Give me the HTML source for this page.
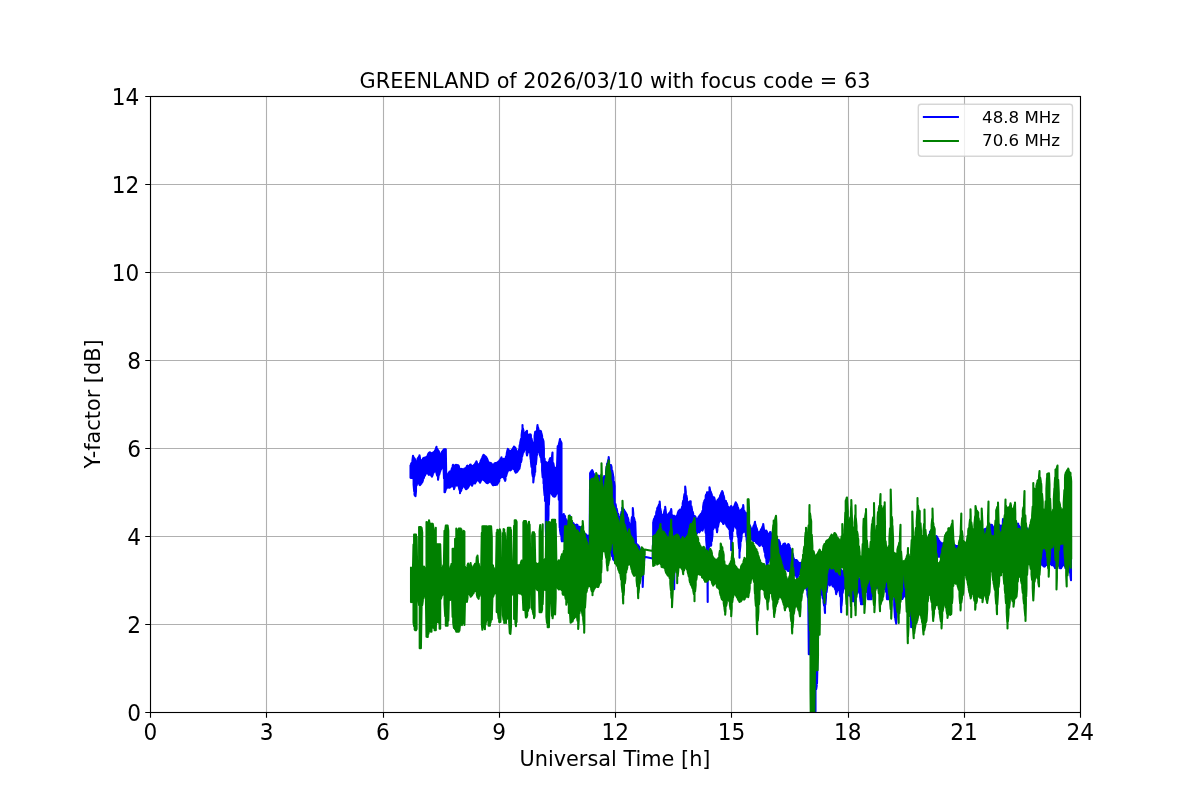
<!DOCTYPE html>
<html lang="en"><head><meta charset="utf-8"><title>GREENLAND of 2026/03/10 with focus code = 63</title>
<style>html,body{margin:0;padding:0;background:#fff;overflow:hidden}svg{display:block}text{font-family:'DejaVu Sans', 'Liberation Sans', sans-serif;fill:#000}</style></head><body>
<svg width="1200" height="800" viewBox="0 0 1200 800">
<rect width="1200" height="800" fill="#fff"/>
<clipPath id="ax"><rect x="150" y="96" width="930" height="616"/></clipPath>
<path d="M150.50 712 V96 M266.50 712 V96 M383.50 712 V96 M499.50 712 V96 M615.50 712 V96 M731.50 712 V96 M848.50 712 V96 M964.50 712 V96 M1080.50 712 V96 M150 712.50 H1080 M150 624.50 H1080 M150 536.50 H1080 M150 448.50 H1080 M150 360.50 H1080 M150 272.50 H1080 M150 184.50 H1080 M150 96.50 H1080" fill="none" stroke="#b0b0b0" stroke-width="1.111" stroke-linecap="square" clip-path="url(#ax)"/>
<path d="M150.50 712.5 v5.26 M266.50 712.5 v5.26 M383.50 712.5 v5.26 M499.50 712.5 v5.26 M615.50 712.5 v5.26 M731.50 712.5 v5.26 M848.50 712.5 v5.26 M964.50 712.5 v5.26 M1080.50 712.5 v5.26 M150.5 712.50 h-5.26 M150.5 624.50 h-5.26 M150.5 536.50 h-5.26 M150.5 448.50 h-5.26 M150.5 360.50 h-5.26 M150.5 272.50 h-5.26 M150.5 184.50 h-5.26 M150.5 96.50 h-5.26" fill="none" stroke="#000" stroke-width="1.111"/>
<g clip-path="url(#ax)" fill="none" stroke-width="2.083" stroke-linejoin="round" stroke-linecap="butt">
<polyline stroke="#0000ff" points="410.5,464.8 410.5,477.8 411.1,478.0 411.1,463.8 411.7,462.8 411.7,478.0 412.4,477.9 412.4,460.8 413.0,455.8 413.0,478.5 413.0,478.5 413.0,455.8 413.6,457.3 413.6,484.5 414.2,491.4 414.2,458.1 414.5,458.4 414.5,494.5 414.8,495.4 414.8,458.8 415.5,461.1 415.5,496.2 416.0,491.2 416.0,463.1 416.7,462.1 416.7,485.3 417.5,481.2 417.5,459.2 417.9,458.1 417.9,481.9 418.6,483.1 418.6,457.3 419.2,456.4 419.2,484.3 419.5,484.8 419.5,455.3 420.0,458.2 420.0,485.2 420.4,484.7 420.4,459.8 421.1,461.3 421.1,483.9 421.5,483.3 421.5,461.5 422.3,459.8 422.3,482.2 422.9,480.4 422.9,458.7 423.5,458.0 423.5,478.6 424.0,477.5 424.0,457.7 424.8,457.8 424.8,475.8 425.0,475.4 425.0,457.8 425.4,457.8 425.4,474.6 426.0,473.5 426.0,457.4 426.6,456.9 426.6,472.6 427.0,472.1 427.0,456.6 427.3,456.1 427.3,472.4 427.9,473.4 427.9,454.7 428.5,453.3 428.5,474.5 429.0,474.9 429.0,452.8 429.7,452.3 429.7,474.3 430.4,474.3 430.4,452.6 431.0,453.0 431.0,475.2 431.6,476.1 431.6,453.5 432.0,453.2 432.0,476.7 432.2,476.1 432.2,453.1 432.5,452.9 432.5,475.3 432.8,474.4 432.8,452.7 433.5,452.3 433.5,472.9 434.1,471.7 434.1,451.8 434.7,451.3 434.7,470.8 435.0,470.7 435.0,450.7 435.3,450.0 435.3,471.1 435.9,471.8 435.9,448.6 436.5,446.8 436.5,473.2 437.2,475.6 437.2,448.9 438.0,450.2 438.0,479.7 438.5,476.8 438.5,450.8 439.1,452.1 439.1,474.9 439.7,472.8 439.7,454.1 440.0,455.3 440.0,471.8 440.3,471.0 440.3,455.3 441.0,454.0 441.0,469.4 441.5,468.5 441.5,452.8 442.2,451.6 442.2,467.5 442.8,466.8 442.8,450.8 443.5,449.9 443.5,466.1 444.0,478.4 444.0,449.3 444.5,449.3 444.5,492.2 445.0,492.2 445.0,449.3 445.3,449.3 445.3,491.3 445.8,489.3 445.8,449.3 446.2,473.9 446.2,488.9 446.5,488.1 446.5,474.5 447.0,474.6 447.0,487.8 447.7,487.4 447.7,474.3 448.0,474.1 448.0,487.4 448.4,487.5 448.4,473.5 449.0,472.4 449.0,487.8 449.6,487.7 449.6,471.6 450.0,471.6 450.0,487.4 450.2,487.3 450.2,471.5 450.8,471.1 450.8,486.9 451.5,486.1 451.5,469.9 452.0,468.1 452.0,484.9 452.7,484.8 452.7,465.8 453.0,464.8 453.0,485.8 453.3,486.9 453.3,465.4 454.0,466.5 454.0,489.2 454.6,487.5 454.6,465.8 455.2,465.1 455.2,485.7 456.0,484.9 456.0,464.8 456.4,464.9 456.4,485.6 457.0,485.4 457.0,465.1 457.7,465.2 457.7,485.5 458.3,485.7 458.3,465.4 458.9,466.3 458.9,487.6 459.5,490.0 459.5,468.4 460.0,469.8 460.0,493.2 460.0,493.2 460.0,469.8 460.8,469.2 460.8,491.2 461.4,490.1 461.4,468.9 462.0,469.1 462.0,488.4 462.6,486.8 462.6,469.3 463.0,469.4 463.0,485.9 463.3,485.8 463.3,469.4 463.9,469.0 463.9,486.1 464.5,486.6 464.5,468.6 465.0,468.5 465.0,487.5 465.7,488.7 465.7,468.0 466.0,467.8 466.0,489.2 466.4,489.0 466.4,467.4 467.0,465.9 467.0,488.6 467.6,488.2 467.6,465.6 468.2,466.4 468.2,487.3 469.0,485.9 469.0,466.9 469.5,465.8 469.5,485.1 470.0,483.9 470.0,464.7 470.7,464.5 470.7,483.4 471.3,484.5 471.3,465.4 472.0,466.2 472.0,485.7 472.6,484.4 472.6,466.0 473.0,465.9 473.0,483.5 473.8,482.9 473.8,465.3 474.4,464.6 474.4,483.2 475.1,483.4 475.1,463.8 475.7,462.7 475.7,482.2 476.0,481.6 476.0,462.2 476.3,461.7 476.3,481.2 476.5,480.9 476.5,461.3 476.9,462.3 476.9,480.6 477.5,480.2 477.5,463.7 478.2,465.0 478.2,479.8 478.8,480.8 478.8,465.3 479.0,465.4 479.0,481.1 479.4,481.7 479.4,464.5 480.0,462.9 480.0,482.7 480.6,481.5 480.6,461.0 481.0,460.3 481.0,480.8 481.3,480.3 481.3,459.7 481.9,458.4 481.9,479.2 482.5,478.9 482.5,457.0 483.1,455.6 483.1,479.5 483.5,479.9 483.5,454.8 483.7,455.0 483.7,480.1 484.0,480.2 484.0,455.2 484.4,455.5 484.4,480.6 485.0,481.2 485.0,456.0 485.6,456.5 485.6,481.8 486.0,482.2 486.0,456.8 486.2,457.1 486.2,482.4 486.8,483.0 486.8,458.1 487.5,459.6 487.5,483.3 488.0,483.1 488.0,461.0 488.7,462.8 488.7,482.3 489.3,481.9 489.3,462.7 490.0,462.8 490.0,481.5 490.6,481.7 490.6,463.0 491.2,463.2 491.2,482.4 491.8,483.3 491.8,463.9 492.4,465.0 492.4,484.3 493.0,485.2 493.0,465.9 493.0,465.9 493.0,485.2 493.7,485.1 493.7,465.1 494.3,463.7 494.3,485.0 494.9,485.0 494.9,463.2 495.5,463.0 495.5,484.9 496.0,484.8 496.0,463.1 496.8,462.8 496.8,484.7 497.0,484.7 497.0,462.8 497.4,462.6 497.4,484.0 498.0,483.0 498.0,462.0 498.5,461.5 498.5,482.2 499.3,480.9 499.3,460.7 500.0,459.8 500.0,478.4 500.5,477.7 500.5,459.2 501.1,458.0 501.1,477.3 501.5,477.0 501.5,457.3 501.7,459.0 501.7,476.9 502.4,476.9 502.4,460.5 503.0,459.7 503.0,477.1 503.6,477.2 503.6,458.8 504.2,459.2 504.2,478.6 505.0,480.4 505.0,459.9 505.2,459.3 505.2,480.9 505.5,479.5 505.5,458.4 506.1,456.4 506.1,476.1 506.7,474.0 506.7,454.4 507.0,452.0 507.0,473.2 507.3,472.4 507.3,450.8 507.9,448.9 507.9,471.0 508.2,470.4 508.2,449.3 508.6,449.8 508.6,470.2 509.2,470.0 509.2,450.7 510.0,451.2 510.0,470.2 510.4,470.4 510.4,451.0 511.2,450.6 511.2,469.8 511.7,468.8 511.7,450.1 512.3,449.6 512.3,467.4 512.9,467.9 512.9,448.5 513.5,447.4 513.5,468.8 514.0,469.5 514.0,446.5 514.8,447.2 514.8,471.0 515.4,472.1 515.4,447.9 515.7,448.6 515.7,472.7 516.0,472.6 516.0,449.4 516.6,450.9 516.6,472.3 517.3,471.6 517.3,452.2 518.0,453.2 518.0,470.6 518.5,469.8 518.5,452.0 519.1,449.2 519.1,469.0 519.5,468.6 519.5,446.7 519.7,445.0 519.7,467.2 520.2,464.6 520.2,442.8 521.0,438.9 521.0,462.3 521.6,459.6 521.6,435.2 522.2,430.1 522.2,456.2 522.5,454.7 522.5,425.1 522.5,425.1 522.5,454.7 522.8,453.9 522.8,428.0 523.5,430.8 523.5,452.4 524.1,450.9 524.1,432.9 524.7,434.5 524.7,448.7 524.7,448.7 524.7,434.5 525.3,433.3 525.3,449.1 525.9,449.7 525.9,431.9 526.6,431.1 526.6,453.0 527.0,455.4 527.0,430.8 527.0,430.8 527.0,455.4 527.8,452.3 527.8,434.7 528.4,434.7 528.4,452.0 529.1,451.8 529.1,434.8 529.7,434.6 529.7,452.5 530.0,452.8 530.0,434.6 530.3,434.6 530.3,455.8 530.7,459.4 530.7,434.5 530.9,435.5 530.9,461.3 531.5,466.8 531.5,438.5 532.2,441.7 532.2,472.7 532.8,476.2 532.8,443.6 533.3,445.4 533.3,482.4 533.7,478.6 533.7,445.9 534.0,442.5 534.0,477.0 534.6,474.5 534.6,435.8 535.2,431.9 535.2,471.9 535.2,471.9 535.2,431.9 535.9,432.6 535.9,464.4 536.5,457.8 536.5,431.9 536.7,430.8 536.7,455.9 537.1,454.3 537.1,428.3 537.5,425.1 537.5,452.8 537.7,451.9 537.7,426.6 538.4,428.7 538.4,450.2 539.0,450.9 539.0,430.3 539.6,432.1 539.6,454.0 540.2,455.9 540.2,431.3 540.5,430.8 540.5,456.7 540.8,457.8 540.8,431.0 541.2,432.4 541.2,459.2 541.5,462.5 541.5,433.6 542.1,436.1 542.1,470.4 542.7,477.5 542.7,438.7 543.5,441.2 543.5,483.4 543.5,483.4 543.5,441.2 543.9,448.9 543.9,487.5 544.6,495.5 544.6,458.5 545.0,464.3 545.0,501.0 545.0,501.0 545.0,464.3 545.8,462.3 545.8,527.5 546.2,540.8 546.2,462.3 546.4,462.3 546.4,541.8 547.2,544.0 547.2,462.9 547.3,463.0 547.3,544.2 547.7,535.1 547.7,463.1 548.3,463.2 548.3,519.9 548.5,514.9 548.5,462.8 548.9,461.5 548.9,505.0 549.5,491.1 549.5,459.6 550.2,458.2 550.2,491.6 550.8,492.5 550.8,458.4 551.4,458.5 551.4,493.5 552.0,494.5 552.0,456.6 552.5,452.5 552.5,495.2 553.3,496.3 553.3,463.1 553.9,466.5 553.9,496.5 554.5,496.6 554.5,469.3 554.7,470.1 554.7,496.7 554.7,496.7 554.7,470.1 555.1,469.3 555.1,496.2 555.7,495.5 555.7,467.8 556.4,467.3 556.4,494.0 557.0,492.5 557.0,467.5 557.7,446.3 557.7,490.7 558.2,489.6 558.2,445.8 558.5,445.5 558.5,489.0 558.8,499.6 558.8,444.6 559.5,441.6 559.5,520.0 559.7,527.7 559.7,440.5 560.0,439.0 560.0,529.9 560.7,534.7 560.7,441.0 561.5,443.2 561.5,539.0 561.9,541.2 561.9,518.0 561.9,518.0 561.9,541.2 562.6,541.2 562.6,516.5 563.2,515.1 563.2,541.2 563.5,541.2 563.5,514.5 563.7,514.0 563.7,540.7 564.4,539.1 564.4,515.3 565.1,516.4 565.1,537.9 565.7,538.9 565.7,518.8 566.0,519.9 566.0,539.5 566.3,539.9 566.3,520.9 566.7,521.8 566.7,539.3 566.9,538.9 566.9,521.8 567.5,521.5 567.5,537.8 568.2,536.7 568.2,521.0 568.8,519.1 568.8,535.7 569.4,535.2 569.4,517.1 569.7,515.5 569.7,535.4 570.0,535.7 570.0,517.0 570.6,519.1 570.6,537.6 571.3,538.6 571.3,520.6 571.9,521.6 571.9,538.7 572.5,538.8 572.5,522.6 573.1,523.1 573.1,540.5 573.5,541.7 573.5,523.4 573.7,523.7 573.7,542.4 574.4,542.6 574.4,524.5 575.0,525.2 575.0,542.7 575.6,542.5 575.6,525.4 576.2,525.0 576.2,542.7 576.8,542.9 576.8,524.6 577.5,525.1 577.5,543.3 578.0,543.8 578.0,526.5 578.7,526.9 578.7,544.8 579.3,545.8 579.3,526.7 580.0,526.9 580.0,547.0 580.6,546.7 580.6,528.3 581.2,529.8 581.2,545.9 581.8,545.9 581.8,530.8 582.5,531.0 582.5,546.3 583.1,546.6 583.1,531.6 583.7,532.5 583.7,546.7 584.3,546.6 584.3,533.4 584.9,533.7 584.9,547.6 585.5,548.8 585.5,534.0 586.2,534.8 586.2,550.0 586.8,550.7 586.8,535.4 587.0,535.7 587.0,551.2 587.4,549.1 587.4,535.7 588.0,535.7 588.0,547.5 588.6,546.3 588.6,535.7 589.3,535.4 589.3,545.3 589.7,544.6 589.7,535.3 590.0,489.1 590.0,544.2 590.1,544.2 590.1,473.4 590.5,472.3 590.5,543.5 591.1,542.0 591.1,471.5 591.7,470.7 591.7,540.5 592.2,540.0 592.2,470.1 593.0,472.0 593.0,539.9 593.6,539.9 593.6,473.5 594.2,474.6 594.2,541.9 594.8,544.0 594.8,475.7 595.5,476.6 595.5,543.6 596.0,543.0 596.0,477.4 596.7,477.1 596.7,542.2 597.3,541.7 597.3,476.5 597.9,475.8 597.9,541.3 598.6,542.3 598.6,475.6 599.2,476.1 599.2,543.7 600.0,544.2 600.0,476.8 600.0,476.8 600.0,544.2 600.4,544.7 600.4,476.7 601.1,476.6 601.1,544.9 601.7,544.8 601.7,478.4 602.3,480.6 602.3,544.7 602.9,545.9 602.9,479.1 603.5,477.6 603.5,547.3 604.2,548.8 604.2,476.0 604.8,477.7 604.8,547.9 605.0,547.4 605.0,478.3 605.4,476.7 605.4,546.4 606.0,548.7 606.0,471.8 606.6,466.9 606.6,551.0 607.0,552.2 607.0,464.0 607.3,463.2 607.3,551.7 607.9,550.7 607.9,461.4 608.5,458.9 608.5,549.7 608.7,549.9 608.7,457.0 609.1,460.9 609.1,550.4 609.7,551.2 609.7,464.8 610.4,465.0 610.4,552.0 611.0,552.8 611.0,465.1 611.6,467.2 611.6,554.4 612.2,556.4 612.2,470.5 613.0,474.7 613.0,558.9 613.2,559.4 613.2,475.8 613.5,477.6 613.5,559.7 614.1,560.3 614.1,481.9 614.7,486.1 614.7,560.9 615.5,561.7 615.5,504.1 615.9,505.9 615.9,562.1 616.6,562.1 616.6,508.6 617.2,511.2 617.2,561.5 618.0,561.1 618.0,513.5 618.4,514.6 618.4,561.0 619.1,560.9 619.1,516.7 619.7,519.4 619.7,561.3 620.0,561.5 620.0,520.8 620.3,519.1 620.3,561.7 620.9,562.8 620.9,515.4 621.5,511.7 621.5,564.1 622.2,564.1 622.2,507.8 622.8,508.4 622.8,563.1 623.4,561.9 623.4,509.1 624.0,509.8 624.0,562.4 624.6,564.2 624.6,510.9 625.0,511.5 625.0,565.2 625.3,564.1 625.3,512.0 625.9,513.1 625.9,561.6 626.5,559.7 626.5,514.1 627.0,515.0 627.0,559.7 627.7,559.7 627.7,517.2 628.4,519.7 628.4,559.5 629.0,558.1 629.0,522.3 629.6,525.0 629.6,557.0 630.2,556.7 630.2,526.7 630.8,524.0 630.8,556.3 631.5,555.9 631.5,520.6 632.0,517.0 632.0,555.6 632.8,557.0 632.8,508.0 633.3,513.6 633.3,559.2 633.9,561.6 633.9,517.6 634.6,520.2 634.6,561.4 635.2,561.3 635.2,521.8 636.0,542.4 636.0,562.1 636.4,562.6 636.4,543.5 637.1,545.1 637.1,563.7 637.7,565.4 637.7,545.4 638.3,545.3 638.3,567.1 638.9,567.8 638.9,546.4 639.5,547.8 639.5,568.6 640.0,569.2 640.0,549.1 640.0,549.1 640.0,569.2 640.8,571.0 640.8,551.7 641.4,553.5 641.4,572.5 642.0,576.0 642.0,554.0 642.7,554.2 642.7,586.9 643.3,571.2 643.3,555.6 643.9,556.8 643.9,562.9 644.5,557.2 644.5,557.2 644.5,556.7 652.7,558.5 652.9,544.9 652.9,558.2 653.2,559.2 653.2,522.3 653.2,522.3 653.2,559.2 653.5,557.9 653.5,521.1 654.1,518.8 654.1,555.4 654.8,553.6 654.8,517.2 655.4,515.8 655.4,552.1 656.2,551.0 656.2,512.9 656.6,511.0 656.6,551.2 657.2,551.0 657.2,508.2 657.9,507.1 657.9,549.6 658.5,548.1 658.5,505.9 659.1,504.4 659.1,547.4 659.7,546.9 659.7,501.5 660.0,505.6 660.0,546.7 660.3,546.7 660.3,508.5 661.0,512.0 661.0,545.9 661.6,544.3 661.6,514.2 662.2,516.2 662.2,543.6 662.8,543.7 662.8,515.6 663.4,514.4 663.4,543.7 664.1,543.6 664.1,512.3 664.7,509.8 664.7,543.6 665.2,544.1 665.2,506.8 665.9,512.5 665.9,544.8 666.5,544.2 666.5,515.2 667.2,514.9 667.2,542.8 667.5,542.0 667.5,514.7 667.8,514.5 667.8,542.2 668.2,542.9 668.2,514.3 668.4,514.1 668.4,543.2 669.0,544.2 669.0,513.4 669.6,512.6 669.6,545.3 670.3,545.6 670.3,511.6 670.9,510.4 670.9,545.9 671.2,545.9 671.2,509.0 671.5,511.6 671.5,545.2 672.1,544.0 672.1,515.0 672.8,517.4 672.8,545.0 673.4,546.2 673.4,516.3 674.0,515.7 674.0,570.2 674.2,589.2 674.2,516.2 674.2,516.2 674.2,589.2 674.6,559.3 674.6,516.4 675.0,516.5 675.0,543.9 675.2,543.3 675.2,516.6 675.9,516.5 675.9,543.5 676.5,543.6 676.5,516.0 677.1,515.2 677.1,543.7 677.7,542.9 677.7,513.4 678.0,512.6 678.0,542.6 678.3,542.1 678.3,511.5 679.0,510.7 679.0,542.6 679.6,543.4 679.6,509.8 680.0,509.6 680.0,543.9 680.8,543.3 680.8,509.6 681.4,509.7 681.4,542.5 681.7,542.1 681.7,508.8 682.1,506.8 682.1,541.3 682.7,540.3 682.7,503.2 683.3,500.6 683.3,542.0 683.9,543.6 683.9,497.6 684.5,494.0 684.5,544.2 685.2,544.2 685.2,486.5 685.8,491.8 685.8,544.2 686.4,543.7 686.4,495.5 687.0,498.6 687.0,542.9 687.7,542.0 687.7,501.6 688.3,502.5 688.3,541.5 688.9,541.2 688.9,502.9 689.5,502.0 689.5,542.9 690.0,544.2 690.0,501.3 690.7,501.3 690.7,542.8 691.4,540.3 691.4,506.3 692.0,509.7 692.0,538.0 692.6,537.2 692.6,511.6 693.2,513.5 693.2,536.8 693.7,536.4 693.7,515.8 694.5,516.1 694.5,535.2 695.1,534.2 695.1,516.3 695.7,517.5 695.7,534.7 696.3,535.1 696.3,518.7 696.9,518.9 696.9,533.5 697.5,531.8 697.5,519.0 697.5,519.0 697.5,531.8 698.2,531.6 698.2,517.9 698.8,516.8 698.8,532.0 699.4,532.3 699.4,515.8 700.0,515.0 700.0,531.3 700.7,529.6 700.7,514.2 701.3,513.5 701.3,529.1 702.0,530.1 702.0,512.7 702.5,510.9 702.5,530.6 703.1,529.0 703.1,506.9 703.8,502.3 703.8,527.2 704.4,526.2 704.4,500.7 705.0,499.7 705.0,525.4 705.7,532.8 705.7,495.9 706.2,494.4 706.2,540.0 707.0,550.0 707.0,492.2 707.5,492.2 707.5,576.7 707.7,601.9 707.7,492.5 708.1,493.0 708.1,563.7 708.4,548.9 708.4,493.2 708.7,492.1 708.7,547.9 709.5,545.6 709.5,487.3 710.0,489.6 710.0,544.6 710.6,545.3 710.6,491.4 711.0,492.5 711.0,545.8 711.2,544.9 711.2,493.1 711.8,494.7 711.8,541.2 712.5,535.0 712.5,496.4 713.1,497.9 713.1,529.6 713.7,527.4 713.7,497.6 714.0,497.4 714.0,526.3 714.3,527.6 714.3,497.7 714.9,500.4 714.9,527.5 715.5,526.9 715.5,502.9 716.2,502.8 716.2,526.7 716.8,530.4 716.8,501.5 717.0,501.1 717.0,532.2 717.4,529.9 717.4,500.4 718.0,499.6 718.0,526.7 718.7,523.0 718.7,498.8 719.2,498.0 719.2,521.9 720.0,520.4 720.0,496.1 720.5,494.8 720.5,520.5 721.1,520.7 721.1,493.4 721.8,492.0 721.8,521.0 722.2,522.0 722.2,491.0 723.0,493.1 723.0,523.8 723.6,524.0 723.6,495.4 724.2,498.1 724.2,522.2 724.9,521.1 724.9,500.7 725.5,500.8 725.5,522.7 726.0,523.9 726.0,501.1 726.0,501.1 726.0,523.9 726.7,526.0 726.7,502.8 727.3,504.6 727.3,526.8 728.0,527.5 728.0,506.5 728.6,507.9 728.6,528.3 729.0,528.9 729.0,508.7 729.0,508.7 729.0,528.9 729.2,529.5 729.2,508.7 729.8,508.0 729.8,533.3 730.4,538.9 730.4,506.9 731.2,506.0 731.2,550.2 731.7,542.0 731.7,507.0 732.0,507.7 732.0,539.1 732.3,536.5 732.3,508.2 732.9,508.1 732.9,531.2 733.5,527.0 733.5,507.2 734.2,506.1 734.2,526.4 734.8,526.3 734.8,504.6 735.4,503.0 735.4,526.1 735.7,526.7 735.7,502.3 736.0,502.8 736.0,527.5 736.5,528.7 736.5,503.6 737.3,505.4 737.3,533.2 737.9,536.7 737.9,507.4 738.5,509.3 738.5,540.9 739.1,548.5 739.1,510.5 739.5,511.3 739.5,557.7 739.5,557.7 739.5,511.3 739.7,511.2 739.7,552.0 740.4,545.6 740.4,510.8 741.0,509.9 741.0,541.0 741.6,537.1 741.6,509.3 742.2,508.7 742.2,533.6 742.5,532.2 742.5,508.4 742.8,507.3 742.8,532.5 743.2,531.9 743.2,505.1 743.5,507.5 743.5,531.4 744.1,530.2 744.1,510.5 744.7,511.9 744.7,531.3 745.5,532.7 745.5,512.6 745.9,512.9 745.9,535.2 746.2,536.9 746.2,513.7 746.6,515.7 746.6,539.5 747.2,545.0 747.2,519.0 747.7,521.3 747.7,553.2 748.4,543.1 748.4,523.1 749.1,524.0 749.1,538.6 749.7,537.5 749.7,525.1 750.0,525.9 750.0,536.8 750.3,537.5 750.3,526.6 750.9,528.6 750.9,538.3 751.2,538.6 751.2,529.8 751.5,529.7 751.5,539.0 752.2,539.7 752.2,529.7 752.8,528.2 752.8,540.4 753.4,540.9 753.4,526.5 754.0,525.1 754.0,541.0 754.6,540.8 754.6,523.6 755.0,521.8 755.0,540.7 755.3,541.3 755.3,523.9 756.0,526.6 756.0,542.6 756.5,543.1 756.5,527.9 757.1,529.7 757.1,543.5 757.7,543.9 757.7,531.4 758.4,532.8 758.4,544.5 758.7,544.9 758.7,533.4 759.0,533.1 759.0,545.2 759.6,545.9 759.6,532.3 760.2,531.2 760.2,545.3 760.8,544.2 760.8,529.9 761.5,528.7 761.5,544.4 762.0,544.8 762.0,527.8 762.7,526.2 762.7,546.1 763.2,546.4 763.2,524.0 763.9,528.9 763.9,548.6 764.6,552.0 764.6,530.2 765.2,531.3 765.2,555.7 765.8,558.1 765.8,531.1 766.4,530.6 766.4,561.0 767.0,566.2 767.0,531.7 767.0,531.7 767.0,566.2 767.7,563.8 767.7,533.5 768.3,534.9 768.3,562.2 768.9,560.8 768.9,533.9 769.5,533.0 769.5,559.6 770.1,558.7 770.1,532.1 770.7,532.3 770.7,559.6 771.4,560.6 771.4,533.6 772.0,535.7 772.0,559.7 772.6,557.0 772.6,538.0 773.0,539.3 773.0,557.3 773.2,557.7 773.2,539.4 773.9,539.7 773.9,558.6 774.5,559.4 774.5,539.9 775.0,539.4 775.0,558.6 775.7,558.6 775.7,538.3 776.3,538.1 776.3,559.6 777.0,561.3 777.0,539.3 777.6,540.5 777.6,562.1 778.2,561.9 778.2,540.0 778.8,540.0 778.8,562.2 779.4,563.9 779.4,541.4 780.1,543.5 780.1,565.6 780.7,566.6 780.7,545.7 781.2,546.5 781.2,567.3 781.9,568.2 781.9,546.3 782.5,545.5 782.5,569.0 783.2,569.8 783.2,544.5 783.8,543.8 783.8,570.0 784.4,569.4 784.4,543.6 785.0,543.5 785.0,569.3 785.0,569.3 785.0,543.5 785.6,545.2 785.6,569.1 786.3,568.8 786.3,546.7 786.9,546.5 786.9,569.2 787.5,570.6 787.5,545.2 788.1,544.2 788.1,570.9 788.7,570.7 788.7,544.3 789.4,545.7 789.4,570.6 790.0,571.6 790.0,547.7 790.6,549.6 790.6,573.7 791.2,573.9 791.2,550.2 791.7,550.5 791.7,573.2 792.5,572.3 792.5,553.3 793.1,555.6 793.1,573.9 793.7,575.6 793.7,558.0 794.0,559.2 794.0,575.3 794.3,575.0 794.3,559.5 795.0,560.0 795.0,574.4 795.6,575.0 795.6,560.1 796.2,560.1 796.2,576.2 797.0,578.2 797.0,560.4 797.4,561.1 797.4,576.9 797.7,576.5 797.7,561.6 798.1,562.1 798.1,576.1 798.7,575.0 798.7,562.7 799.3,563.0 799.3,573.9 800.0,573.0 800.0,563.3 800.0,563.3 800.0,573.0 800.5,574.1 800.5,563.1 801.2,562.8 801.2,575.3 801.8,577.0 801.8,562.6 802.4,562.7 802.4,578.8 803.0,580.6 803.0,563.2 803.6,564.3 803.6,582.1 804.3,583.4 804.3,565.5 804.9,565.2 804.9,584.5 805.5,584.9 805.5,563.9 806.0,563.6 806.0,585.2 806.7,589.8 806.7,565.7 807.4,566.8 807.4,594.3 808.0,597.5 808.0,566.8 808.3,566.8 808.3,599.2 808.8,654.2 808.8,566.7 809.2,566.7 809.2,654.2 809.5,654.2 809.5,566.7 810.0,566.6 810.0,642.1 810.3,634.8 810.3,566.6 811.1,565.9 811.1,654.0 811.7,669.3 811.7,564.9 812.3,564.6 812.3,684.2 813.0,699.2 813.0,566.2 813.5,567.1 813.5,711.2 814.2,711.2 814.2,566.9 814.8,566.8 814.8,711.2 815.5,711.2 815.5,567.1 816.2,567.4 816.2,689.2 816.7,685.9 816.7,567.7 817.0,568.0 817.0,683.6 817.3,670.9 817.3,568.2 818.0,568.5 818.0,639.2 818.5,623.4 818.5,568.4 819.0,568.3 819.0,609.2 819.8,593.1 819.8,567.7 820.0,567.0 820.0,588.3 820.0,588.3 820.0,567.0 820.4,566.5 820.4,589.4 821.0,590.9 821.0,566.6 821.6,568.5 821.6,593.2 822.2,595.6 822.2,569.8 822.5,569.3 822.5,596.9 822.9,598.7 822.9,568.6 823.5,567.4 823.5,602.0 824.1,605.5 824.1,566.5 824.7,567.9 824.7,609.3 825.0,612.9 825.0,568.5 825.4,569.2 825.4,604.6 826.0,597.5 826.0,569.7 826.6,569.3 826.6,592.2 827.0,588.7 827.0,568.9 827.0,568.9 827.0,588.7 827.2,587.5 827.2,568.5 828.0,567.2 828.0,583.3 828.5,583.6 828.5,567.0 829.1,567.0 829.1,584.5 829.7,585.5 829.7,567.2 830.3,568.1 830.3,584.9 830.9,584.0 830.9,569.1 831.6,570.0 831.6,583.5 832.2,584.7 832.2,569.0 832.5,568.4 832.5,585.4 832.8,586.3 832.8,567.9 833.4,568.3 833.4,586.6 834.0,586.4 834.0,569.7 834.7,570.3 834.7,587.7 835.3,589.6 835.3,569.1 835.9,567.8 835.9,592.0 836.2,594.2 836.2,568.3 836.5,568.7 836.5,592.8 837.1,591.4 837.1,569.6 837.8,569.7 837.8,590.1 838.4,588.3 838.4,569.0 838.7,568.6 838.7,587.4 839.0,588.4 839.0,568.3 839.6,568.2 839.6,591.7 840.2,596.4 840.2,568.3 840.9,569.6 840.9,604.2 841.2,612.2 841.2,570.4 841.5,571.1 841.5,605.8 842.1,599.2 842.1,572.3 842.7,571.6 842.7,592.9 843.3,588.0 843.3,570.8 843.7,570.8 843.7,586.0 844.0,586.4 844.0,570.9 844.6,571.4 844.6,587.2 845.0,587.8 845.0,571.7 845.2,571.9 845.2,588.2 845.8,589.3 845.8,572.6 846.4,573.4 846.4,590.9 847.1,592.8 847.1,573.7 847.7,574.0 847.7,594.8 848.3,595.3 848.3,574.4 848.9,574.9 848.9,594.9 849.5,594.5 849.5,575.4 850.0,574.7 850.0,595.6 850.8,596.9 850.8,573.1 851.4,573.8 851.4,598.4 852.0,599.9 852.0,575.3 852.6,575.6 852.6,601.2 853.3,600.6 853.3,575.3 853.9,575.0 853.9,600.0 854.5,601.9 854.5,575.1 855.0,575.5 855.0,605.2 855.7,598.1 855.7,576.0 856.4,576.4 856.4,594.8 857.0,592.9 857.0,576.8 857.6,576.8 857.6,591.7 858.2,590.4 858.2,576.9 858.7,577.5 858.7,588.9 859.5,593.2 859.5,578.9 860.1,579.4 860.1,597.1 860.7,601.9 860.7,579.5 861.0,579.5 861.0,604.2 861.3,604.2 861.3,579.3 862.0,579.7 862.0,604.2 862.5,604.2 862.5,580.5 863.2,580.4 863.2,600.5 863.8,597.4 863.8,579.5 864.4,578.8 864.4,594.4 865.1,592.0 865.1,578.9 865.7,579.1 865.7,589.6 866.0,588.3 866.0,579.1 866.3,579.1 866.3,589.6 866.9,592.0 866.9,578.0 867.5,577.4 867.5,595.6 868.0,599.2 868.0,577.5 868.8,577.7 868.8,599.2 869.4,599.2 869.4,578.6 870.0,579.5 870.0,599.2 870.6,599.2 870.6,580.4 871.3,580.1 871.3,599.2 871.5,599.2 871.5,580.0 871.9,579.6 871.9,596.4 872.5,591.9 872.5,578.6 873.0,577.9 873.0,588.4 873.7,588.2 873.7,577.8 874.4,577.9 874.4,588.1 875.0,588.0 875.0,577.9 875.6,578.3 875.6,587.9 876.2,587.9 876.2,578.7 876.8,578.5 876.8,587.8 877.5,587.7 877.5,578.2 878.1,578.3 878.1,587.9 878.7,588.6 878.7,578.7 879.3,579.1 879.3,589.2 879.9,588.5 879.9,579.4 880.6,579.6 880.6,587.7 881.2,587.5 881.2,579.9 881.8,579.1 881.8,587.6 882.4,587.6 882.4,578.4 883.0,579.0 883.0,588.1 883.7,588.7 883.7,579.7 884.3,579.9 884.3,589.0 884.9,588.2 884.9,579.8 885.6,579.7 885.6,587.8 886.1,591.9 886.1,580.0 886.8,580.1 886.8,597.1 887.0,599.2 887.0,580.0 887.4,579.7 887.4,599.2 888.0,599.2 888.0,579.2 888.7,578.7 888.7,599.2 889.2,595.3 889.2,578.8 890.0,579.0 890.0,590.2 890.0,590.2 890.0,579.0 890.5,579.1 890.5,589.9 891.1,589.6 891.1,579.2 891.7,579.4 891.7,589.6 892.3,589.7 892.3,579.6 893.1,579.8 893.1,589.7 893.6,596.1 893.6,580.3 894.2,580.4 894.2,605.1 895.0,617.6 895.0,579.0 895.4,578.2 895.4,619.3 896.2,623.6 896.2,576.9 896.7,576.8 896.7,610.0 897.5,599.2 897.5,576.5 897.9,577.1 897.9,598.3 898.5,597.1 898.5,578.4 899.2,578.5 899.2,596.3 899.8,596.5 899.8,577.9 900.0,577.8 900.0,596.5 900.4,596.8 900.4,577.5 901.0,577.5 901.0,597.6 901.7,598.5 901.7,577.6 902.3,577.4 902.3,599.0 902.9,597.8 902.9,576.5 903.5,575.7 903.5,596.9 904.1,596.5 904.1,574.9 904.8,574.1 904.8,596.1 905.0,596.0 905.0,573.6 905.4,572.9 905.4,596.3 906.0,596.9 906.0,571.6 906.6,570.3 906.6,598.3 907.2,600.4 907.2,569.8 907.9,569.5 907.9,602.1 908.5,602.7 908.5,569.9 909.1,570.3 909.1,603.3 909.7,603.9 909.7,570.5 910.0,569.7 910.0,604.2 910.3,608.3 910.3,568.8 911.0,567.0 911.0,618.4 911.2,627.2 911.2,566.7 911.6,567.5 911.6,612.6 912.0,604.2 912.0,568.5 912.0,568.5 912.0,604.2 913.0,597.6 913.0,567.2 913.4,566.0 913.4,595.4 914.1,592.7 914.1,564.3 914.7,561.5 914.7,591.4 915.3,590.0 915.3,558.8 915.9,558.8 915.9,588.1 916.5,586.0 916.5,558.8 917.2,558.7 917.2,584.0 917.8,582.5 917.8,557.4 918.4,555.7 918.4,581.0 919.0,580.4 919.0,553.0 919.6,550.3 919.6,580.0 920.0,578.7 920.0,548.9 920.0,548.9 920.0,578.7 920.3,577.7 920.3,549.0 920.9,549.3 920.9,575.2 921.5,573.0 921.5,549.2 922.1,547.1 922.1,571.5 922.7,570.2 922.7,545.2 923.4,545.2 923.4,569.4 924.0,568.6 924.0,545.2 924.6,544.9 924.6,567.8 925.2,566.9 925.2,542.8 926.0,541.3 926.0,566.0 926.5,565.9 926.5,541.3 927.1,541.3 927.1,565.7 927.7,564.9 927.7,539.9 928.3,537.9 928.3,562.1 928.9,560.1 928.9,535.8 929.6,534.2 929.6,558.9 930.0,558.1 930.0,531.8 930.0,531.8 930.0,558.1 930.8,559.0 930.8,535.0 931.4,534.6 931.4,559.9 932.0,560.7 932.0,534.0 932.7,535.8 932.7,558.7 933.3,557.0 933.3,538.0 933.9,538.0 933.9,558.4 934.5,559.8 934.5,537.7 935.1,537.4 935.1,559.2 935.8,557.9 935.8,536.7 936.4,536.0 936.4,556.7 937.0,556.7 937.0,536.8 937.7,538.0 937.7,556.7 938.0,556.7 938.0,538.6 938.3,539.1 938.3,556.7 938.9,556.6 938.9,540.4 939.5,541.4 939.5,556.5 940.1,556.6 940.1,542.0 940.7,542.6 940.7,556.8 941.0,557.0 941.0,542.9 941.4,543.0 941.4,557.5 942.0,558.4 942.0,543.3 942.6,543.6 942.6,559.2 943.2,559.3 943.2,543.9 943.8,544.2 943.8,559.2 944.5,558.8 944.5,544.5 945.0,544.8 945.0,558.1 945.7,557.3 945.7,545.2 946.3,545.8 946.3,557.3 946.9,557.3 946.9,546.3 947.6,546.6 947.6,557.2 948.2,557.1 948.2,546.9 948.8,547.0 948.8,557.0 949.4,557.1 949.4,547.1 950.0,547.2 950.0,557.2 950.7,557.7 950.7,546.9 951.3,546.5 951.3,558.1 951.9,557.9 951.9,546.7 952.5,546.8 952.5,557.2 953.1,556.6 953.1,546.5 953.8,545.7 953.8,556.3 954.4,556.1 954.4,544.9 955.0,545.2 955.0,556.3 955.6,556.5 955.6,545.9 956.2,546.1 956.2,556.8 956.9,557.3 956.9,546.1 957.5,546.1 957.5,557.4 958.1,556.9 958.1,545.9 958.7,545.6 958.7,556.4 959.3,556.4 959.3,545.6 960.0,545.5 960.0,556.8 960.6,557.0 960.6,545.3 961.2,544.6 961.2,556.1 961.8,555.1 961.8,544.2 962.4,544.2 962.4,554.6 963.1,554.5 963.1,544.2 963.7,544.2 963.7,555.1 964.3,555.9 964.3,544.1 964.7,544.0 964.7,556.2 964.9,555.8 964.9,543.9 965.5,543.5 965.5,555.0 966.2,554.1 966.2,543.2 966.8,542.8 966.8,553.5 967.4,553.3 967.4,542.4 968.0,541.9 968.0,553.1 968.6,553.2 968.6,540.9 969.3,539.9 969.3,553.2 969.9,553.1 969.9,539.4 970.5,540.1 970.5,553.0 971.1,552.9 971.1,540.5 971.7,539.8 971.7,552.7 972.4,552.5 972.4,539.0 973.0,537.9 973.0,553.3 973.6,554.0 973.6,536.7 974.2,536.3 974.2,553.9 975.0,552.5 975.0,535.8 975.0,535.8 975.0,552.5 975.5,551.7 975.5,535.5 976.1,536.0 976.1,551.2 976.7,550.7 976.7,536.5 977.3,535.3 977.3,550.5 978.0,550.4 978.0,533.5 978.6,532.8 978.6,550.6 979.2,551.3 979.2,533.6 979.8,534.2 979.8,552.0 980.4,552.0 980.4,532.4 981.1,530.5 981.1,550.8 981.7,549.7 981.7,529.4 982.3,529.6 982.3,548.9 982.9,548.4 982.9,529.8 983.5,530.0 983.5,549.5 984.2,550.6 984.2,530.1 984.8,529.4 984.8,550.2 985.0,549.6 985.0,529.1 985.4,529.0 985.4,548.7 986.0,547.2 986.0,528.7 986.6,528.3 986.6,547.0 987.3,547.2 987.3,528.0 987.9,528.3 987.9,547.7 988.5,549.2 988.5,528.5 989.1,528.4 989.1,549.0 989.7,548.0 989.7,526.7 990.0,526.0 990.0,547.6 990.4,547.1 990.4,525.1 991.0,524.9 991.0,546.5 991.6,546.0 991.6,524.9 992.0,525.0 992.0,545.9 992.2,545.9 992.2,525.4 992.8,526.7 992.8,545.8 993.5,545.6 993.5,527.9 994.1,527.7 994.1,545.4 994.7,545.3 994.7,527.0 995.3,526.1 995.3,545.8 995.9,546.3 995.9,525.1 996.6,524.9 996.6,546.4 997.2,545.8 997.2,526.0 997.8,526.5 997.8,545.3 998.4,546.2 998.4,525.5 999.0,524.6 999.0,547.2 999.7,547.7 999.7,525.1 1000.0,525.7 1000.0,547.1 1000.3,546.6 1000.3,525.9 1000.9,526.4 1000.9,545.4 1001.5,544.6 1001.5,525.9 1002.1,525.4 1002.1,543.8 1002.8,543.5 1002.8,522.1 1003.0,519.0 1003.0,543.7 1003.4,544.3 1003.4,520.0 1004.0,520.8 1004.0,545.1 1004.6,545.1 1004.6,522.7 1005.0,523.9 1005.0,545.1 1005.2,545.2 1005.2,524.7 1005.9,525.8 1005.9,546.1 1006.5,547.0 1006.5,526.0 1007.1,525.4 1007.1,546.4 1007.7,545.4 1007.7,524.4 1008.3,524.2 1008.3,544.4 1009.0,545.3 1009.0,525.2 1009.6,526.1 1009.6,546.4 1010.0,547.1 1010.0,526.7 1010.2,526.8 1010.2,546.9 1010.8,545.6 1010.8,525.4 1011.4,525.0 1011.4,545.0 1012.1,545.1 1012.1,525.8 1012.7,526.6 1012.7,545.2 1013.3,545.7 1013.3,527.0 1013.9,527.3 1013.9,546.7 1014.6,546.8 1014.6,527.2 1015.2,527.0 1015.2,546.0 1015.8,545.3 1015.8,526.7 1016.4,525.8 1016.4,544.9 1017.0,545.2 1017.0,524.9 1017.7,524.0 1017.7,545.1 1018.0,544.7 1018.0,523.5 1018.3,524.2 1018.3,544.4 1018.9,543.8 1018.9,525.6 1019.5,526.6 1019.5,544.0 1020.0,544.6 1020.0,527.1 1020.8,527.8 1020.8,545.3 1021.4,545.1 1021.4,527.9 1022.0,527.8 1022.0,545.3 1022.6,545.8 1022.6,526.9 1023.2,525.9 1023.2,546.3 1023.9,546.7 1023.9,526.9 1024.5,528.0 1024.5,547.0 1025.1,547.7 1025.1,528.1 1025.7,527.7 1025.7,548.8 1026.3,549.9 1026.3,527.2 1027.0,528.6 1027.0,550.4 1027.6,550.9 1027.6,530.1 1028.2,530.5 1028.2,551.3 1028.8,551.5 1028.8,529.7 1029.4,528.9 1029.4,552.0 1030.0,553.4 1030.0,529.6 1030.7,531.2 1030.7,555.1 1031.3,555.8 1031.3,532.2 1031.9,532.2 1031.9,554.9 1032.5,555.2 1032.5,532.1 1033.2,531.8 1033.2,556.4 1033.8,557.7 1033.8,531.6 1034.4,531.6 1034.4,558.7 1035.0,559.2 1035.0,531.6 1035.6,531.9 1035.6,559.3 1036.3,558.5 1036.3,532.9 1036.9,533.9 1036.9,557.8 1037.5,559.6 1037.5,533.7 1038.1,533.3 1038.1,561.7 1038.7,561.4 1038.7,532.9 1039.4,532.5 1039.4,561.0 1040.0,560.7 1040.0,532.3 1040.6,532.7 1040.6,562.2 1041.2,564.2 1041.2,533.0 1041.8,533.3 1041.8,564.7 1042.5,565.2 1042.5,533.5 1043.1,533.7 1043.1,565.7 1043.7,566.2 1043.7,533.5 1044.3,533.3 1044.3,566.7 1045.0,566.3 1045.0,533.7 1045.0,533.7 1045.0,566.3 1045.6,565.2 1045.6,534.1 1046.2,533.7 1046.2,565.0 1046.8,565.0 1046.8,532.6 1047.4,531.5 1047.4,564.8 1048.0,564.2 1048.0,532.2 1048.7,533.6 1048.7,563.6 1049.3,563.5 1049.3,534.8 1049.9,535.5 1049.9,563.7 1050.5,564.0 1050.5,535.7 1051.1,535.2 1051.1,564.5 1051.8,565.1 1051.8,534.8 1052.4,533.8 1052.4,565.1 1053.0,565.2 1053.0,532.5 1053.6,532.8 1053.6,565.2 1054.3,566.5 1054.3,534.3 1054.9,535.9 1054.9,567.9 1055.5,567.9 1055.5,536.3 1056.1,536.5 1056.1,567.9 1056.7,567.6 1056.7,535.2 1057.4,533.8 1057.4,566.5 1058.0,565.4 1058.0,532.5 1058.6,532.6 1058.6,565.3 1059.2,565.6 1059.2,532.7 1060.0,534.6 1060.0,568.2 1060.0,568.2 1060.0,534.6 1060.5,535.8 1060.5,568.2 1061.1,568.2 1061.1,536.8 1061.7,537.2 1061.7,567.0 1062.3,565.7 1062.3,537.6 1062.9,537.7 1062.9,565.2 1063.6,564.8 1063.6,537.5 1064.2,537.5 1064.2,564.8 1064.8,566.5 1064.8,537.8 1065.4,538.0 1065.4,568.1 1066.0,568.2 1066.0,537.9 1066.7,537.8 1066.7,568.2 1067.3,567.3 1067.3,537.0 1068.0,535.9 1068.0,565.8 1068.5,567.2 1068.5,535.2 1069.1,535.3 1069.1,569.8 1069.8,572.8 1069.8,535.6 1070.4,536.9 1070.4,575.5 1071.0,580.2 1071.0,538.3"/>
<polyline stroke="#008000" points="411.0,566.7 411.0,602.1 411.6,602.0 411.6,569.0 412.2,571.5 412.2,602.0 412.9,600.1 412.9,572.5 413.5,544.6 413.5,622.6 414.1,626.1 414.1,534.5 414.7,534.5 414.7,629.6 415.3,630.2 415.3,534.5 416.0,534.5 416.0,630.2 416.6,629.1 416.6,536.8 417.2,571.7 417.2,597.0 417.8,596.3 417.8,569.9 418.5,567.9 418.5,599.3 419.1,605.2 419.1,527.0 419.7,527.0 419.7,648.2 420.3,648.2 420.3,527.0 420.9,527.0 420.9,648.2 421.6,605.2 421.6,527.8 422.2,532.3 422.2,605.2 422.8,600.9 422.8,571.9 423.4,569.3 423.4,598.5 424.0,596.1 424.0,566.5 424.7,568.4 424.7,595.6 425.3,595.4 425.3,569.9 425.9,568.3 425.9,597.7 426.5,636.8 426.5,522.1 427.1,522.2 427.1,636.9 427.8,636.9 427.8,526.9 428.4,526.1 428.4,633.9 429.0,630.8 429.0,520.3 429.6,523.8 429.6,624.6 430.3,630.8 430.3,523.8 430.9,523.8 430.9,631.7 431.5,631.7 431.5,523.8 432.1,523.8 432.1,627.9 432.7,623.1 432.7,523.8 433.4,527.8 433.4,624.4 434.0,628.1 434.0,532.6 434.6,536.9 434.6,630.2 435.2,630.2 435.2,532.2 435.8,527.8 435.8,630.2 436.5,602.2 436.5,544.3 437.1,544.3 437.1,600.8 437.7,622.1 437.7,544.3 438.3,544.3 438.3,617.0 439.0,622.9 439.0,544.3 439.6,544.3 439.6,628.7 440.2,628.7 440.2,544.3 440.8,565.1 440.8,598.9 441.4,597.2 441.4,567.9 442.1,570.7 442.1,595.5 442.7,594.5 442.7,568.7 443.3,565.2 443.3,593.7 443.9,593.2 443.9,564.5 444.5,530.8 444.5,604.0 445.2,616.2 445.2,530.8 445.8,525.5 445.8,625.7 446.4,625.7 446.4,525.5 447.0,525.5 447.0,625.7 447.6,625.7 447.6,525.5 448.3,530.9 448.3,620.8 448.9,597.4 448.9,570.1 449.5,570.5 449.5,599.4 450.1,600.0 450.1,569.8 450.8,566.0 450.8,597.5 451.4,595.0 451.4,564.0 452.0,564.0 452.0,594.3 452.6,617.0 452.6,548.8 453.2,548.8 453.2,622.7 453.9,627.9 453.9,548.8 454.5,548.8 454.5,627.9 455.1,629.2 455.1,538.8 455.7,538.8 455.7,629.2 456.3,631.7 456.3,528.5 457.0,530.7 457.0,631.7 457.6,631.7 457.6,534.4 458.2,532.7 458.2,631.7 458.8,631.7 458.8,528.6 459.4,528.5 459.4,630.6 460.1,623.7 460.1,528.5 460.7,528.5 460.7,623.7 461.3,621.2 461.3,529.3 461.9,531.9 461.9,625.1 462.6,620.4 462.6,536.6 463.2,535.3 463.2,620.7 463.8,623.0 463.8,530.8 464.4,531.6 464.4,624.9 465.0,600.5 465.0,566.7 465.7,568.8 465.7,598.7 466.3,600.6 466.3,568.8 466.9,567.9 466.9,601.9 467.5,598.1 467.5,565.6 468.1,563.5 468.1,594.4 468.8,592.7 468.8,567.0 469.4,568.6 469.4,593.2 470.0,595.1 470.0,565.7 470.6,563.1 470.6,596.8 471.3,596.2 471.3,565.4 471.9,567.9 471.9,595.4 472.5,594.5 472.5,569.0 473.1,568.7 473.1,593.7 473.7,592.9 473.7,566.9 474.4,564.9 474.4,591.3 475.0,590.0 475.0,563.8 475.6,566.5 475.6,590.4 476.2,591.5 476.2,566.3 476.8,557.0 476.8,594.4 477.5,597.2 477.5,555.5 478.1,563.6 478.1,598.1 478.7,598.8 478.7,563.7 479.3,567.4 479.3,596.6 479.9,594.1 479.9,569.8 480.6,570.3 480.6,593.9 481.2,594.3 481.2,570.8 481.8,532.9 481.8,624.1 482.4,629.8 482.4,526.3 483.1,526.3 483.1,627.3 483.7,624.1 483.7,526.3 484.3,526.3 484.3,626.8 484.9,629.2 484.9,526.3 485.5,526.3 485.5,624.7 486.2,620.2 486.2,526.3 486.8,526.3 486.8,619.9 487.4,611.4 487.4,530.8 488.0,530.8 488.0,614.2 488.6,625.7 488.6,526.3 489.3,526.3 489.3,625.7 489.9,625.7 489.9,526.3 490.5,526.3 490.5,622.7 491.1,618.9 491.1,526.3 491.8,536.7 491.8,619.5 492.4,596.6 492.4,567.7 493.0,565.5 493.0,596.8 493.6,595.3 493.6,567.5 494.2,569.4 494.2,593.8 494.9,593.3 494.9,570.0 495.5,570.3 495.5,592.8 496.1,592.2 496.1,568.6 496.7,532.5 496.7,612.1 497.3,611.8 497.3,529.9 498.0,538.9 498.0,612.7 498.6,618.3 498.6,534.7 499.2,530.1 499.2,621.9 499.8,621.9 499.8,529.3 500.4,532.1 500.4,621.9 501.1,594.3 501.1,568.6 501.7,570.3 501.7,591.6 502.3,590.3 502.3,570.0 502.9,533.1 502.9,615.1 503.6,619.8 503.6,529.0 504.2,529.5 504.2,622.9 504.8,614.6 504.8,532.7 505.4,543.8 505.4,619.9 506.0,622.9 506.0,541.1 506.7,545.3 506.7,619.1 507.3,618.2 507.3,536.5 507.9,527.8 507.9,616.7 508.5,617.1 508.5,527.8 509.1,527.8 509.1,621.3 509.8,633.3 509.8,527.8 510.4,527.8 510.4,633.9 511.0,626.2 511.0,530.0 511.6,565.8 511.6,595.4 512.2,593.8 512.2,567.2 512.9,567.3 512.9,592.8 513.5,592.8 513.5,567.5 514.1,525.8 514.1,618.9 514.7,616.4 514.7,520.3 515.4,520.3 515.4,622.7 516.0,626.1 516.0,520.3 516.6,521.9 516.6,622.1 517.2,592.1 517.2,565.1 517.8,565.6 517.8,591.3 518.5,592.5 518.5,565.5 519.1,565.3 519.1,593.2 519.7,593.5 519.7,565.2 520.3,564.6 520.3,593.7 520.9,593.2 520.9,562.5 521.6,560.6 521.6,592.7 522.2,595.1 522.2,562.3 522.8,564.0 522.8,596.6 523.4,609.9 523.4,522.4 524.0,521.0 524.0,609.9 524.7,609.9 524.7,521.0 525.3,521.0 525.3,609.9 525.9,617.4 525.9,521.0 526.5,524.0 526.5,617.4 527.2,615.7 527.2,527.6 527.8,527.6 527.8,611.1 528.4,609.0 528.4,526.7 529.0,521.7 529.0,607.0 529.6,607.7 529.6,524.5 530.3,563.2 530.3,589.2 530.9,589.7 530.9,565.1 531.5,562.9 531.5,587.7 532.1,609.2 532.1,535.5 532.7,532.3 532.7,610.9 533.4,614.2 533.4,532.3 534.0,532.3 534.0,618.1 534.6,616.0 534.6,533.8 535.2,561.4 535.2,587.8 535.9,587.4 535.9,563.0 536.5,563.5 536.5,588.6 537.1,589.7 537.1,564.0 537.7,564.1 537.7,590.3 538.3,590.3 538.3,564.1 539.0,563.1 539.0,590.4 539.6,612.2 539.6,531.2 540.2,525.1 540.2,612.2 540.8,612.2 540.8,532.0 541.4,535.6 541.4,612.2 542.1,609.4 542.1,535.1 542.7,524.4 542.7,604.2 543.3,585.2 543.3,560.1 543.9,561.4 543.9,586.7 544.5,589.8 544.5,559.8 545.2,558.8 545.2,589.9 545.8,587.9 545.8,558.9 546.4,521.9 546.4,616.6 547.0,623.0 547.0,525.4 547.7,528.9 547.7,627.2 548.3,627.2 548.3,525.3 548.9,521.8 548.9,627.2 549.5,603.2 549.5,522.5 550.1,522.5 550.1,602.3 550.8,599.9 550.8,522.5 551.4,522.5 551.4,597.5 552.0,616.0 552.0,519.8 552.6,519.8 552.6,618.3 553.2,612.9 553.2,519.8 553.9,519.8 553.9,607.5 554.5,609.6 554.5,519.8 555.1,519.8 555.1,614.5 555.7,598.2 555.7,523.8 556.4,563.4 556.4,587.1 557.0,586.8 557.0,565.4 557.6,563.9 557.6,587.7 558.2,588.6 558.2,562.3 558.8,560.2 558.8,589.4 559.5,589.3 559.5,560.6 560.1,562.8 560.1,589.0 560.7,589.1 560.7,562.0 561.3,556.2 561.3,589.5 561.9,590.3 561.9,554.3 562.6,554.6 562.6,593.7 563.2,594.8 563.2,555.1 563.8,550.9 563.8,591.9 564.4,588.7 564.4,545.5 565.0,526.3 565.0,594.6 565.7,598.8 565.7,526.3 566.3,526.3 566.3,604.7 566.9,598.4 566.9,526.3 567.5,526.3 567.5,599.0 568.2,602.4 568.2,526.3 568.8,515.8 568.8,612.9 569.4,612.9 569.4,515.8 570.0,520.0 570.0,612.9 570.6,622.7 570.6,524.5 571.3,517.1 571.3,622.3 571.9,617.3 571.9,520.7 572.5,548.3 572.5,591.4 572.6,524.8 572.6,621.4 573.0,619.2 573.0,524.8 573.0,524.8 573.0,619.2 573.2,619.0 573.2,524.9 573.8,525.4 573.8,618.4 574.5,617.7 574.5,526.5 575.1,528.3 575.1,617.1 575.7,615.9 575.7,530.1 576.0,530.5 576.0,615.0 576.3,615.4 576.3,530.4 577.0,530.2 577.0,616.5 577.5,620.6 577.5,530.6 578.2,531.7 578.2,628.9 578.8,619.1 578.8,532.6 579.4,533.5 579.4,613.4 580.1,608.8 580.1,534.4 580.5,533.7 580.5,607.5 581.2,605.9 581.2,529.5 581.9,526.2 581.9,611.1 582.7,615.9 582.7,521.0 583.2,527.6 583.2,619.2 583.8,625.0 583.8,531.0 584.2,532.5 584.2,632.7 584.4,621.8 584.4,533.2 585.0,535.0 585.0,607.8 585.7,595.9 585.7,538.4 586.3,540.3 586.3,592.6 586.9,590.4 586.9,542.1 587.5,544.0 587.5,588.3 588.0,585.9 588.0,545.8 588.0,545.8 588.0,585.9 588.8,585.8 588.8,547.1 589.4,549.4 589.4,585.8 589.8,586.1 589.8,551.3 590.2,480.4 590.2,586.4 590.6,587.0 590.6,480.4 591.2,479.6 591.2,589.1 591.9,591.5 591.9,478.7 592.5,478.7 592.5,595.2 592.5,595.2 592.5,478.7 593.1,478.8 593.1,591.6 593.7,589.6 593.7,478.8 594.4,478.4 594.4,588.6 595.0,587.6 595.0,478.0 595.6,475.6 595.6,587.0 596.2,586.6 596.2,473.0 597.0,475.4 597.0,586.8 597.5,586.9 597.5,477.5 598.1,480.4 598.1,587.0 598.5,586.5 598.5,481.5 598.7,483.1 598.7,585.8 599.3,583.7 599.3,487.8 600.0,492.4 600.0,582.7 600.7,582.4 600.7,482.9 601.2,474.2 601.2,572.6 601.5,566.1 601.5,463.3 601.8,475.8 601.8,559.5 602.2,551.2 602.2,483.9 602.4,488.1 602.4,551.5 603.0,551.5 603.0,495.7 603.7,492.7 603.7,550.9 604.3,550.3 604.3,489.1 605.0,484.6 605.0,551.4 605.2,552.1 605.2,483.3 605.5,479.0 605.5,553.6 606.2,557.8 606.2,472.2 606.7,466.3 606.7,562.0 607.5,570.4 607.5,464.7 608.0,463.4 608.0,565.6 608.7,562.6 608.7,460.3 609.3,467.1 609.3,560.6 609.7,559.2 609.7,470.3 610.5,473.3 610.5,550.1 611.2,542.2 611.2,481.1 611.8,488.5 611.8,542.8 612.4,543.1 612.4,498.5 612.7,503.7 612.7,543.3 613.0,543.5 613.0,505.0 613.5,506.1 613.5,544.6 614.2,553.8 614.2,507.5 615.0,509.8 615.0,563.3 615.5,563.5 615.5,511.3 616.1,513.1 616.1,563.9 616.5,564.3 616.5,514.2 616.7,515.2 616.7,564.9 617.4,566.3 617.4,517.7 618.0,520.5 618.0,568.2 618.6,570.1 618.6,523.5 619.2,526.4 619.2,572.0 619.5,572.2 619.5,527.5 619.5,527.5 619.5,572.2 619.8,573.1 619.8,525.1 620.5,520.4 620.5,575.0 621.1,579.7 621.1,517.1 621.7,514.2 621.7,584.8 622.5,592.1 622.5,500.8 622.9,511.9 622.9,597.2 623.2,603.4 623.2,515.8 623.6,520.8 623.6,595.1 624.0,590.2 624.0,523.6 624.8,525.3 624.8,583.3 625.4,578.7 625.4,527.5 626.2,532.9 626.2,572.4 626.2,572.4 626.2,532.9 626.7,533.7 626.7,569.9 627.3,567.3 627.3,533.4 627.9,533.1 627.9,565.1 628.5,563.6 628.5,532.0 629.2,529.3 629.2,561.9 629.2,561.9 629.2,529.3 629.8,533.4 629.8,563.6 630.4,565.0 630.4,535.1 631.0,536.6 631.0,566.4 631.6,569.2 631.6,537.3 632.2,537.9 632.2,571.7 633.0,574.0 633.0,539.2 633.5,541.4 633.5,574.8 634.1,575.8 634.1,544.0 634.8,544.6 634.8,575.5 635.4,574.7 635.4,544.9 636.0,545.8 636.0,574.9 636.0,574.9 636.0,545.8 636.6,547.0 636.6,580.5 637.2,586.4 637.2,548.3 637.9,549.5 637.9,591.9 638.2,598.2 638.2,550.2 638.5,550.8 638.5,592.8 639.0,588.2 639.0,552.5 639.7,553.6 639.7,583.5 640.5,579.0 640.5,551.5 641.0,549.9 641.0,576.8 641.7,574.1 641.7,547.3 642.2,547.8 642.2,574.3 642.8,574.7 642.8,548.4 643.5,549.9 643.5,574.2 644.1,565.0 644.1,550.8 644.7,550.9 644.7,555.1 644.7,549.5 652.7,551.0 652.9,545.8 652.9,557.1 653.2,565.9 653.2,536.6 653.2,536.6 653.2,565.9 653.5,565.8 653.5,536.3 654.1,535.8 654.1,565.5 654.8,564.9 654.8,535.4 655.4,535.4 655.4,563.1 656.0,561.4 656.0,535.0 656.6,533.8 656.6,562.5 657.0,563.5 657.0,533.1 657.0,533.1 657.0,563.5 657.2,564.5 657.2,532.5 657.9,531.4 657.9,564.0 658.5,563.4 658.5,530.6 659.1,529.6 659.1,563.1 659.7,563.1 659.7,528.4 660.5,524.0 660.5,563.1 661.0,564.8 661.0,528.5 661.5,531.1 661.5,566.8 662.2,567.2 662.2,532.6 663.0,531.7 663.0,566.5 663.5,566.8 663.5,531.5 664.1,532.4 664.1,567.7 664.7,568.5 664.7,533.3 665.3,534.3 665.3,570.0 666.0,572.4 666.0,535.3 666.0,535.3 666.0,572.4 666.6,573.5 666.6,536.2 667.2,538.3 667.2,574.5 667.8,575.4 667.8,540.4 668.2,540.8 668.2,575.8 668.4,575.6 668.4,539.8 669.0,537.0 669.0,575.0 669.7,578.2 669.7,533.7 670.3,531.0 670.3,583.7 670.9,590.1 670.9,526.7 671.2,519.5 671.2,593.7 671.5,597.9 671.5,527.8 672.0,532.4 672.0,607.2 672.8,590.3 672.8,537.0 673.5,537.4 673.5,579.6 674.2,571.5 674.2,536.4 674.6,536.1 674.6,569.4 675.2,566.4 675.2,535.7 675.7,535.4 675.7,564.6 676.5,572.4 676.5,534.9 677.2,534.5 677.2,583.2 677.2,583.2 677.2,534.5 677.7,535.0 677.7,576.2 678.3,570.4 678.3,535.6 679.0,537.4 679.0,567.7 679.5,565.7 679.5,538.9 680.2,540.4 680.2,566.8 681.0,567.6 681.0,540.9 681.4,540.1 681.4,568.1 682.1,569.1 682.1,538.6 682.7,537.2 682.7,570.7 683.2,574.2 683.2,538.0 683.9,539.1 683.9,570.6 684.6,568.5 684.6,540.0 685.2,539.2 685.2,567.3 685.5,566.8 685.5,538.6 685.8,538.1 685.8,566.3 686.2,565.8 686.2,537.6 686.4,537.4 686.4,566.7 687.0,569.5 687.0,536.6 687.7,535.7 687.7,571.9 688.3,574.3 688.3,534.1 688.5,533.5 688.5,575.1 688.9,576.8 688.9,531.6 689.5,528.5 689.5,579.8 690.0,582.2 690.0,526.1 690.7,524.1 690.7,584.3 691.4,585.4 691.4,524.8 692.0,524.9 692.0,586.7 692.6,588.5 692.6,523.5 693.2,521.9 693.2,590.4 693.9,594.0 693.9,520.5 694.5,518.0 694.5,601.2 694.5,601.2 694.5,518.0 695.1,528.3 695.1,591.4 695.7,585.2 695.7,532.7 696.3,536.2 696.3,579.9 696.7,577.1 696.7,536.8 697.0,536.8 697.0,575.1 697.5,571.2 697.5,536.8 698.2,539.4 698.2,572.6 699.0,574.2 699.0,542.9 699.4,543.9 699.4,574.5 700.1,574.6 700.1,545.3 700.7,546.7 700.7,574.6 701.3,575.1 701.3,547.4 702.0,547.7 702.0,577.2 702.5,577.6 702.5,547.6 703.2,547.2 703.2,577.9 703.5,578.0 703.5,546.9 703.8,546.8 703.8,578.3 704.4,580.1 704.4,547.5 705.0,549.5 705.0,581.7 705.7,581.7 705.7,551.7 706.3,550.7 706.3,581.7 706.9,581.5 706.9,550.6 707.5,552.2 707.5,580.8 708.0,580.2 708.0,553.5 708.8,552.9 708.8,579.4 709.5,578.7 709.5,550.8 710.0,549.4 710.0,578.9 710.2,579.1 710.2,548.8 710.6,549.5 710.6,579.5 711.2,580.2 711.2,550.5 711.9,553.2 711.9,582.1 712.5,584.1 712.5,556.0 713.1,557.7 713.1,585.6 713.7,584.8 713.7,558.2 714.0,558.5 714.0,584.5 714.0,584.5 714.0,558.5 714.3,558.6 714.3,583.7 715.0,583.3 715.0,559.4 715.6,560.4 715.6,583.3 716.2,583.7 716.2,561.0 716.8,560.0 716.8,586.3 717.4,587.7 717.4,559.1 717.7,559.9 717.7,587.5 718.1,587.2 718.1,558.9 718.5,557.8 718.5,586.8 719.3,589.4 719.3,554.5 719.9,550.7 719.9,592.5 720.7,595.6 720.7,543.5 721.2,545.5 721.2,597.1 721.5,598.2 721.5,546.9 721.8,547.6 721.8,599.1 722.2,599.6 722.2,547.0 722.4,548.1 722.4,599.8 723.0,600.3 723.0,551.3 723.7,555.0 723.7,603.0 724.3,606.8 724.3,561.2 724.5,563.4 724.5,608.3 724.9,611.3 724.9,564.7 725.2,565.4 725.2,614.7 725.5,611.0 725.5,565.4 726.1,565.6 726.1,606.1 726.8,602.9 726.8,565.8 727.4,566.1 727.4,600.1 728.0,597.5 728.0,566.4 728.2,566.3 728.2,597.0 728.6,598.7 728.6,566.2 729.0,566.0 729.0,600.4 729.2,601.4 729.2,565.3 729.9,563.8 729.9,605.0 730.5,609.2 730.5,562.6 731.2,560.8 731.2,616.2 731.7,608.3 731.7,558.4 732.3,553.0 732.3,602.0 732.7,598.8 732.7,542.8 733.0,551.5 733.0,597.5 733.6,594.7 733.6,558.3 734.2,562.1 734.2,592.2 735.0,593.7 735.0,565.4 735.4,566.0 735.4,594.5 736.1,595.6 736.1,566.9 736.7,567.9 736.7,596.7 737.3,597.9 737.3,568.6 737.9,569.3 737.9,599.0 738.5,600.2 738.5,569.9 739.2,570.6 739.2,601.3 739.5,601.9 739.5,571.0 739.5,571.0 739.5,601.9 739.8,601.8 739.8,570.6 740.4,569.1 740.4,601.5 741.0,601.2 741.0,567.1 741.6,565.2 741.6,600.5 742.3,598.5 742.3,564.4 742.9,563.5 742.9,596.7 743.5,598.2 743.5,561.5 744.1,559.2 744.1,599.7 744.5,599.2 744.5,557.8 744.5,557.8 744.5,599.2 744.8,598.7 744.8,558.3 745.4,559.4 745.4,597.6 746.0,596.8 746.0,560.1 746.6,560.5 746.6,596.2 747.0,595.8 747.0,560.8 747.2,540.9 747.2,595.7 747.7,596.5 747.7,499.3 748.2,499.3 748.2,597.2 748.6,595.3 748.6,499.3 749.1,511.5 749.1,592.8 749.7,588.7 749.7,526.8 750.5,544.8 750.5,583.0 751.0,579.1 751.0,544.0 751.2,543.6 751.2,577.0 751.6,577.1 751.6,542.9 752.2,542.4 752.2,577.5 752.8,578.3 752.8,542.8 753.4,543.8 753.4,579.2 754.2,582.1 754.2,545.8 754.7,547.1 754.7,589.1 755.0,593.9 755.0,547.9 755.3,548.3 755.3,598.1 755.9,605.9 755.9,548.9 756.5,549.5 756.5,615.1 757.2,634.2 757.2,551.6 757.8,553.6 757.8,620.8 758.4,612.0 758.4,555.7 759.0,557.7 759.0,604.5 759.5,598.3 759.5,559.3 760.2,561.0 760.2,589.5 760.9,588.3 760.9,562.7 761.5,563.2 761.5,588.6 762.1,588.8 762.1,563.7 762.8,563.8 762.8,589.3 763.4,589.8 763.4,564.0 764.0,564.1 764.0,590.4 764.0,590.4 764.0,564.1 764.6,565.0 764.6,593.9 765.2,597.4 765.2,566.2 765.9,566.8 765.9,598.2 766.5,599.3 766.5,566.2 767.1,565.8 767.1,601.5 767.7,609.4 767.7,565.5 768.3,565.3 768.3,601.9 769.0,597.3 769.0,567.1 769.6,569.2 769.6,593.6 770.0,591.9 770.0,569.5 770.7,559.2 770.7,589.3 771.4,593.2 771.4,548.4 772.1,540.1 772.1,596.4 772.7,599.8 772.7,532.0 773.3,525.0 773.3,605.3 773.7,609.4 773.7,520.6 773.9,520.8 773.9,612.1 774.2,616.9 774.2,521.0 774.5,520.8 774.5,613.7 775.2,609.9 775.2,518.7 775.8,516.5 775.8,606.6 776.0,605.5 776.0,515.8 776.4,523.9 776.4,604.4 777.0,603.1 777.0,536.3 777.5,545.8 777.5,602.1 777.5,602.1 777.5,545.8 778.3,550.4 778.3,599.3 778.9,597.0 778.9,554.2 779.7,556.5 779.7,596.8 780.1,596.8 780.1,557.8 780.5,559.1 780.5,596.7 780.7,597.0 780.7,560.1 781.4,562.4 781.4,597.9 782.0,598.9 782.0,564.7 782.6,566.8 782.6,600.5 783.2,602.3 783.2,568.9 783.5,569.8 783.5,603.4 783.9,605.0 783.9,570.3 784.5,570.7 784.5,607.8 785.0,610.2 785.0,571.2 785.7,574.0 785.7,608.0 786.3,606.4 786.3,577.1 787.0,579.6 787.0,606.2 787.6,606.0 787.6,581.7 788.0,582.9 788.0,605.9 788.8,606.9 788.8,579.4 789.5,576.3 789.5,607.2 790.1,611.1 790.1,573.2 790.7,569.5 790.7,615.9 791.3,621.2 791.3,566.0 791.9,561.5 791.9,628.0 792.2,633.4 792.2,558.4 792.5,548.8 792.5,627.7 793.2,619.7 793.2,567.9 793.8,574.6 793.8,613.8 794.4,610.1 794.4,579.6 794.7,581.7 794.7,608.4 795.0,606.6 795.0,581.7 795.6,581.2 795.6,603.9 796.2,602.5 796.2,580.1 796.9,579.2 796.9,605.8 797.5,607.3 797.5,579.1 798.1,579.1 798.1,608.9 798.7,610.7 798.7,578.5 799.4,577.5 799.4,612.8 800.0,616.2 800.0,576.5 800.0,576.5 800.0,616.2 800.6,607.0 800.6,572.9 801.2,569.2 801.2,600.5 801.8,596.3 801.8,564.3 802.5,559.2 802.5,592.8 803.0,590.1 803.0,554.8 803.0,554.8 803.0,590.1 803.7,589.1 803.7,550.8 804.3,546.6 804.3,588.4 805.0,588.0 805.0,539.6 805.6,532.6 805.6,587.8 806.0,587.6 806.0,527.8 806.0,527.8 806.0,587.6 806.8,586.0 806.8,532.3 807.5,534.6 807.5,585.2 808.2,585.7 808.2,529.6 808.7,525.2 808.7,596.8 809.3,611.9 809.3,515.5 809.5,505.0 809.5,617.3 810.0,630.5 810.0,513.3 810.5,517.0 810.5,690.4 810.8,719.2 810.8,518.8 811.2,521.5 811.2,718.2 811.8,716.8 811.8,534.8 812.4,545.8 812.4,717.6 812.7,718.2 812.7,551.1 813.0,551.2 813.0,718.9 813.6,719.2 813.6,551.3 814.2,553.9 814.2,719.2 815.0,666.6 815.0,557.3 815.3,556.8 815.3,647.8 815.5,651.6 815.5,556.5 816.1,555.4 816.1,663.2 816.5,670.2 816.5,554.9 816.7,554.7 816.7,670.2 817.4,670.2 817.4,554.0 817.6,553.8 817.6,670.2 818.0,656.0 818.0,552.9 818.6,551.7 818.6,634.8 819.2,634.8 819.2,550.4 819.6,549.6 819.6,634.8 819.8,623.1 819.8,549.9 820.6,551.7 820.6,587.7 821.1,587.5 821.1,552.0 821.7,552.0 821.7,587.3 822.0,587.2 822.0,551.9 822.5,551.9 822.5,589.3 823.0,590.7 823.0,549.6 823.6,545.9 823.6,592.9 824.2,598.0 824.2,544.3 824.5,544.1 824.5,602.9 824.8,597.7 824.8,543.9 825.4,543.5 825.4,591.6 826.0,587.2 826.0,542.0 826.2,541.4 826.2,585.1 826.7,580.2 826.7,540.8 827.3,540.3 827.3,572.9 827.5,570.5 827.5,540.2 827.9,540.1 827.9,569.5 828.5,568.1 828.5,539.7 829.2,538.9 829.2,567.5 829.8,566.8 829.8,538.1 830.0,537.6 830.0,566.6 830.4,567.0 830.4,536.8 831.0,535.6 831.0,567.7 831.6,568.7 831.6,534.6 832.3,535.5 832.3,568.3 832.9,568.0 832.9,536.3 833.5,535.6 833.5,567.7 834.1,567.6 834.1,534.0 834.5,533.0 834.5,568.3 834.7,568.8 834.7,533.2 835.4,533.5 835.4,570.2 836.0,571.7 836.0,534.5 836.6,536.2 836.6,571.2 837.2,570.7 837.2,537.9 837.8,538.4 837.8,571.0 838.2,571.8 838.2,538.2 838.5,538.5 838.5,572.4 839.1,573.7 839.1,539.7 839.7,541.8 839.7,574.3 840.0,574.8 840.0,542.8 840.5,543.7 840.5,567.9 840.9,567.3 840.9,541.0 841.6,536.4 841.6,567.3 842.3,565.0 842.3,524.0 842.5,530.3 842.5,564.2 842.8,565.4 842.8,534.1 843.4,539.4 843.4,567.8 844.2,571.8 844.2,542.3 844.4,537.1 844.4,572.9 844.7,576.0 844.7,530.0 845.3,512.6 845.3,584.1 845.7,589.9 845.7,500.9 845.9,500.1 845.9,593.1 846.5,604.1 846.5,498.1 846.9,497.6 846.9,614.8 847.0,610.8 847.0,497.5 847.8,511.6 847.8,594.9 848.4,588.5 848.4,521.8 848.7,526.2 848.7,585.7 849.0,583.0 849.0,524.8 849.4,522.9 849.4,579.9 849.6,583.7 849.6,521.5 850.3,517.2 850.3,593.7 850.9,606.1 850.9,511.4 851.2,506.1 851.2,617.2 851.3,611.9 851.3,500.0 852.1,522.8 852.1,590.5 852.7,580.1 852.7,528.6 853.1,530.8 853.1,575.1 853.2,576.2 853.2,531.4 854.0,527.2 854.0,585.4 854.6,594.2 854.6,522.3 855.2,515.1 855.2,604.8 855.5,611.2 855.5,505.3 855.6,512.5 855.6,615.2 855.8,607.7 855.8,517.9 856.5,525.8 856.5,596.9 857.1,587.7 857.1,531.6 857.7,534.8 857.7,579.1 858.1,573.8 858.1,538.4 858.3,540.4 858.3,573.7 858.9,574.5 858.9,546.2 859.6,552.0 859.6,575.9 860.0,576.9 860.0,556.0 860.8,556.8 860.8,578.6 861.2,579.5 861.2,557.2 861.4,557.4 861.4,581.3 862.2,587.9 862.2,556.9 862.7,544.1 862.7,592.2 863.3,598.0 863.3,527.9 863.7,518.8 863.7,602.1 863.9,604.5 863.9,519.0 864.4,519.4 864.4,612.9 865.2,599.6 865.2,516.5 865.8,512.7 865.8,592.2 866.0,589.8 866.0,509.0 866.4,530.7 866.4,586.8 866.9,584.2 866.9,540.4 867.5,548.4 867.5,583.7 868.3,581.2 868.3,548.9 868.9,550.0 868.9,579.1 869.5,577.7 869.5,553.6 869.7,554.8 869.7,577.3 870.0,576.6 870.0,551.6 870.7,541.8 870.7,580.8 871.4,586.4 871.4,533.1 872.0,524.1 872.0,590.7 872.6,593.6 872.6,521.2 873.2,517.2 873.2,597.0 874.0,605.2 874.0,503.0 874.4,525.4 874.4,612.2 875.1,599.1 875.1,536.4 875.7,542.1 875.7,589.9 876.3,581.8 876.3,532.5 876.9,525.7 876.9,576.6 877.6,581.7 877.6,517.8 878.0,512.1 878.0,585.2 878.8,593.4 878.8,508.9 879.4,505.8 879.4,600.8 880.0,611.2 880.0,502.1 880.5,494.0 880.5,604.8 881.3,601.8 881.3,505.8 881.9,509.7 881.9,600.9 882.5,599.5 882.5,512.1 883.1,510.3 883.1,596.9 883.8,592.0 883.8,508.0 884.4,505.6 884.4,587.7 884.7,585.7 884.7,502.3 885.0,526.0 885.0,583.7 885.6,579.6 885.6,541.3 886.2,548.4 886.2,575.7 886.2,575.7 886.2,548.4 886.9,547.9 886.9,578.5 887.5,582.4 887.5,547.9 888.1,548.0 888.1,586.3 888.5,588.4 888.5,548.1 888.7,546.0 888.7,589.2 889.4,594.9 889.4,538.2 890.0,528.2 890.0,600.8 890.7,609.1 890.7,489.5 891.2,508.8 891.2,618.6 891.8,605.1 891.8,516.8 892.2,519.9 892.2,599.9 892.5,596.5 892.5,525.8 893.1,539.8 893.1,589.9 893.7,593.3 893.7,552.4 894.3,553.1 894.3,596.2 894.9,597.2 894.9,553.5 895.6,553.6 895.6,598.4 896.2,602.3 896.2,553.8 896.7,554.8 896.7,606.4 897.4,611.8 897.4,549.8 898.2,546.4 898.2,617.1 898.7,622.9 898.7,545.7 899.3,542.5 899.3,613.4 899.9,607.1 899.9,537.2 900.5,524.8 900.5,602.0 901.1,597.0 901.1,551.6 901.9,562.6 901.9,591.7 902.0,590.2 902.0,563.6 902.4,563.3 902.4,583.5 903.0,573.1 903.0,562.4 903.7,561.1 903.7,563.7 904.3,570.6 904.3,561.3 905.0,560.8 905.0,579.9 905.5,587.5 905.5,559.9 906.2,558.3 906.2,600.3 906.7,611.6 906.7,556.9 907.4,554.7 907.4,626.1 907.8,643.2 907.8,552.1 908.0,548.0 908.0,636.4 908.6,625.2 908.6,554.3 909.2,557.6 909.2,616.2 909.8,608.4 909.8,560.0 910.2,560.5 910.2,604.2 910.2,604.2 910.2,560.5 910.5,558.0 910.5,606.0 911.1,610.4 911.1,551.0 911.7,540.0 911.7,615.2 912.3,620.3 912.3,511.5 912.9,528.7 912.9,626.5 913.7,638.2 913.7,536.5 914.2,538.3 914.2,633.3 914.6,630.4 914.6,539.6 914.8,538.0 914.8,629.1 915.4,625.5 915.4,532.7 916.0,527.8 916.0,623.9 916.7,622.5 916.7,521.6 917.3,511.4 917.3,620.5 917.5,619.2 917.5,498.1 917.5,498.1 917.5,619.2 917.9,617.5 917.9,505.5 918.5,510.0 918.5,615.5 919.1,614.1 919.1,510.5 919.7,511.0 919.7,612.9 920.5,612.5 920.5,523.3 921.0,531.2 921.0,615.3 921.6,618.9 921.6,539.2 922.0,543.0 922.0,621.3 922.3,622.9 922.3,541.0 922.9,535.7 922.9,627.5 923.5,634.4 923.5,530.8 924.1,523.9 924.1,630.7 924.5,629.2 924.5,509.6 924.7,520.5 924.7,628.3 925.4,625.1 925.4,529.7 926.0,536.0 926.0,622.2 926.5,620.4 926.5,538.9 926.5,538.9 926.5,620.4 927.2,609.6 927.2,538.4 927.8,537.6 927.8,601.3 928.5,593.1 928.5,536.2 928.7,535.7 928.7,590.0 929.1,591.5 929.1,534.8 929.5,536.0 929.5,592.7 930.3,595.3 930.3,534.5 930.9,530.1 930.9,598.6 931.6,602.1 931.6,525.0 932.2,518.8 932.2,606.8 932.5,610.3 932.5,508.5 932.8,517.9 932.8,614.0 933.2,620.9 933.2,522.9 933.4,524.2 933.4,618.1 934.0,613.3 934.0,526.9 934.7,529.1 934.7,609.0 935.3,606.0 935.3,536.6 935.9,545.1 935.9,605.4 936.5,605.1 936.5,553.5 937.0,558.5 937.0,602.5 937.7,603.2 937.7,565.8 938.4,563.9 938.4,605.6 939.0,609.0 939.0,563.1 939.6,562.9 939.6,612.7 940.0,615.1 940.0,562.8 940.2,561.4 940.2,616.8 940.9,621.4 940.9,557.8 941.5,554.0 941.5,628.4 942.2,616.8 942.2,549.7 942.7,547.9 942.7,611.0 943.4,606.8 943.4,545.6 944.0,542.4 944.0,603.2 944.5,600.6 944.5,539.1 945.2,535.0 945.2,603.7 946.0,607.5 946.0,533.3 946.5,533.4 946.5,610.0 947.1,613.8 947.1,533.1 947.5,531.5 947.5,617.9 948.3,612.7 948.3,528.4 948.9,528.1 948.9,613.4 949.7,614.4 949.7,528.7 950.2,528.2 950.2,614.9 950.8,614.5 950.8,527.3 951.2,526.6 951.2,614.2 951.4,611.3 951.4,525.9 952.0,523.8 952.0,603.2 952.5,597.2 952.5,520.5 953.3,537.9 953.3,585.9 953.5,582.7 953.5,540.0 953.9,543.3 953.9,581.9 954.5,582.1 954.5,547.6 955.0,549.5 955.0,582.8 955.8,583.7 955.8,549.1 956.4,549.6 956.4,583.6 957.2,583.4 957.2,550.3 957.6,549.9 957.6,585.6 958.0,586.8 958.0,549.1 958.2,547.5 958.2,587.6 958.9,589.9 958.9,543.2 959.5,540.4 959.5,596.1 960.1,603.4 960.1,537.6 960.5,535.0 960.5,610.4 960.7,607.4 960.7,531.7 961.3,513.5 961.3,602.6 962.0,598.0 962.0,531.1 962.6,536.7 962.6,595.5 963.2,593.3 963.2,540.8 963.2,540.8 963.2,593.3 963.8,584.0 963.8,541.4 964.5,542.1 964.5,574.9 964.7,571.3 964.7,542.3 965.1,542.7 965.1,573.0 965.7,575.3 965.7,545.1 966.2,547.4 966.2,577.1 966.9,579.8 966.9,541.4 967.6,535.8 967.6,582.1 968.2,585.3 968.2,530.8 968.5,528.8 968.5,587.6 968.5,587.6 968.5,528.8 968.8,528.2 968.8,589.2 969.4,592.6 969.4,525.3 970.0,519.6 970.0,594.9 970.5,596.9 970.5,509.3 970.7,516.3 970.7,598.4 971.3,595.8 971.3,522.4 971.9,526.6 971.9,594.2 972.5,592.7 972.5,529.9 973.0,531.8 973.0,591.7 973.0,591.7 973.0,531.8 973.8,529.0 973.8,596.3 974.4,600.7 974.4,524.9 975.2,516.1 975.2,609.7 975.5,607.0 975.5,506.0 976.2,509.7 976.2,603.2 976.9,600.7 976.9,510.7 977.5,511.5 977.5,596.9 978.2,592.8 978.2,512.3 978.2,512.3 978.2,592.8 978.7,593.6 978.7,518.4 979.3,526.1 979.3,596.0 979.7,597.4 979.7,530.5 980.0,529.8 980.0,597.8 980.6,597.7 980.6,526.2 981.2,520.6 981.2,597.5 981.7,598.2 981.7,508.5 982.5,524.8 982.5,602.2 983.1,597.3 983.1,529.4 983.7,534.4 983.7,595.0 984.2,593.4 984.2,538.1 985.0,536.6 985.0,594.0 985.6,596.9 985.6,534.7 986.2,533.1 986.2,599.0 986.5,599.9 986.5,532.3 986.8,530.5 986.8,600.9 987.2,602.9 987.2,527.8 987.4,526.2 987.4,601.2 988.0,597.8 988.0,518.1 988.5,501.5 988.5,595.6 989.3,592.8 989.3,523.2 989.5,525.8 989.5,592.1 989.9,583.9 989.9,529.9 990.5,534.1 990.5,571.7 991.0,562.6 991.0,536.1 991.0,536.1 991.0,562.6 991.8,569.7 991.8,535.7 992.4,536.2 992.4,574.6 993.2,580.7 993.2,537.0 993.6,537.6 993.6,582.7 994.0,584.8 994.0,538.7 994.2,535.9 994.2,586.2 994.9,589.9 994.9,528.7 995.5,520.5 995.5,595.5 996.2,604.0 996.2,510.3 996.7,508.9 996.7,609.4 997.0,614.2 997.0,508.0 997.3,506.9 997.3,604.6 998.0,593.3 998.0,502.5 998.6,522.8 998.6,586.9 999.2,580.8 999.2,530.7 1000.0,538.1 1000.0,575.0 1000.0,575.0 1000.0,538.1 1000.4,537.3 1000.4,575.4 1001.1,575.3 1001.1,534.8 1001.7,531.7 1001.7,572.5 1002.3,569.7 1002.3,528.5 1003.0,525.8 1003.0,568.7 1003.0,568.7 1003.0,525.8 1003.6,523.2 1003.6,576.3 1004.2,583.8 1004.2,519.7 1004.8,515.0 1004.8,589.4 1005.2,593.1 1005.2,510.3 1005.5,499.5 1005.5,596.4 1006.0,603.2 1006.0,505.7 1006.7,509.2 1006.7,612.0 1007.3,622.1 1007.3,510.2 1007.5,509.9 1007.5,628.4 1007.5,628.4 1007.5,509.9 1007.9,507.9 1007.9,621.3 1008.5,614.1 1008.5,507.2 1009.1,507.7 1009.1,607.9 1009.8,602.2 1009.8,507.5 1010.5,503.3 1010.5,596.6 1010.5,596.6 1010.5,503.3 1011.0,505.6 1011.0,597.6 1011.6,598.8 1011.6,508.0 1012.2,509.4 1012.2,600.1 1012.7,601.2 1012.7,510.4 1013.5,508.8 1013.5,606.7 1014.1,601.8 1014.1,507.0 1014.7,504.6 1014.7,599.0 1015.0,598.6 1015.0,502.5 1015.3,513.8 1015.3,598.2 1016.0,597.4 1016.0,520.8 1016.5,524.7 1016.5,596.7 1017.2,588.8 1017.2,528.7 1017.8,529.3 1017.8,581.7 1018.4,574.4 1018.4,529.1 1018.7,529.0 1018.7,571.5 1019.1,573.1 1019.1,528.9 1019.7,531.1 1019.7,575.1 1020.3,577.2 1020.3,533.6 1021.0,534.4 1021.0,580.4 1021.7,583.6 1021.7,523.8 1022.2,518.1 1022.2,587.4 1022.8,592.8 1022.8,510.8 1023.4,507.4 1023.4,598.2 1024.0,603.6 1024.0,502.5 1024.5,491.0 1024.5,607.7 1025.3,616.2 1025.3,515.4 1025.5,518.4 1025.5,620.9 1025.9,604.5 1025.9,523.0 1026.2,526.1 1026.2,596.4 1026.5,588.6 1026.5,527.9 1027.1,530.4 1027.1,574.9 1027.7,563.7 1027.7,532.6 1028.5,534.4 1028.5,563.7 1029.0,564.1 1029.0,530.7 1029.6,527.2 1029.6,563.7 1030.0,563.2 1030.0,525.7 1030.2,524.7 1030.2,565.1 1030.7,568.8 1030.7,522.8 1031.5,519.2 1031.5,574.6 1032.1,579.9 1032.1,515.6 1032.7,506.5 1032.7,588.0 1033.3,600.4 1033.3,483.0 1033.3,483.0 1033.3,600.4 1034.0,586.6 1034.0,488.3 1034.6,490.6 1034.6,581.6 1035.2,577.3 1035.2,492.5 1036.0,488.8 1036.0,572.4 1036.4,573.8 1036.4,486.2 1037.1,483.0 1037.1,576.3 1037.5,578.4 1037.5,480.9 1038.3,479.8 1038.3,582.4 1039.0,586.4 1039.0,476.4 1039.5,471.0 1039.5,574.9 1040.2,565.2 1040.2,477.6 1040.8,481.4 1040.8,558.9 1041.2,555.2 1041.2,483.6 1041.4,486.6 1041.4,553.3 1042.0,548.5 1042.0,493.9 1042.7,501.9 1042.7,548.4 1043.3,548.3 1043.3,509.2 1043.5,511.6 1043.5,548.3 1043.9,548.2 1043.9,512.6 1044.5,514.1 1044.5,548.1 1045.0,547.7 1045.0,515.1 1045.7,501.2 1045.7,547.0 1046.4,551.2 1046.4,488.9 1047.0,477.7 1047.0,555.5 1047.2,557.1 1047.2,474.0 1047.6,473.8 1047.6,560.8 1048.2,568.3 1048.2,473.6 1048.7,473.4 1048.7,576.7 1049.0,569.2 1049.0,473.3 1049.5,484.5 1049.5,561.6 1050.1,553.5 1050.1,498.9 1050.7,511.9 1050.7,547.5 1051.0,545.6 1051.0,517.6 1051.0,517.6 1051.0,545.6 1051.3,546.4 1051.3,516.9 1052.0,515.7 1052.0,547.7 1052.6,546.8 1052.6,512.7 1053.2,509.5 1053.2,544.6 1053.8,544.6 1053.8,498.8 1054.4,488.4 1054.4,545.0 1054.7,545.2 1054.7,484.0 1055.1,477.5 1055.1,551.6 1055.5,560.2 1055.5,469.6 1056.5,468.9 1056.5,589.4 1056.9,577.7 1056.9,467.5 1057.5,465.5 1057.5,568.1 1058.2,558.4 1058.2,479.7 1058.8,493.0 1058.8,550.2 1059.2,545.1 1059.2,501.8 1059.2,501.8 1059.2,545.1 1059.4,544.9 1059.4,502.6 1060.0,505.0 1060.0,544.2 1060.6,543.6 1060.6,507.5 1061.3,510.9 1061.3,543.6 1061.5,543.6 1061.5,512.2 1061.9,511.5 1061.9,543.7 1062.5,543.7 1062.5,510.3 1063.3,508.7 1063.3,543.4 1063.7,543.2 1063.7,502.7 1064.4,490.1 1064.4,550.7 1065.0,558.7 1065.0,478.6 1065.2,474.7 1065.2,561.5 1065.6,566.9 1065.6,473.2 1066.2,472.1 1066.2,575.6 1066.7,586.4 1066.7,471.2 1067.5,469.8 1067.5,575.3 1068.2,568.3 1068.2,468.5 1068.7,470.0 1068.7,564.6 1069.3,560.6 1069.3,471.9 1069.7,473.0 1069.7,558.4 1070.0,559.9 1070.0,473.3 1070.5,472.9 1070.5,564.3 1070.8,567.7 1070.8,476.6 1071.2,481.4 1071.2,559.2"/>
</g>
<rect x="150.5" y="96.5" width="930" height="616" fill="none" stroke="#000" stroke-width="1.111" stroke-linejoin="miter"/>
<text transform="translate(150.30 739.66) scale(0.975 1.0625)" font-size="22.22" text-anchor="middle">0</text>
<text transform="translate(266.55 739.66) scale(0.975 1.0625)" font-size="22.22" text-anchor="middle">3</text>
<text transform="translate(382.80 739.66) scale(0.975 1.0625)" font-size="22.22" text-anchor="middle">6</text>
<text transform="translate(499.05 739.66) scale(0.975 1.0625)" font-size="22.22" text-anchor="middle">9</text>
<text transform="translate(615.30 739.66) scale(0.975 1.0625)" font-size="22.22" text-anchor="middle">12</text>
<text transform="translate(731.55 739.66) scale(0.975 1.0625)" font-size="22.22" text-anchor="middle">15</text>
<text transform="translate(847.80 739.66) scale(0.975 1.0625)" font-size="22.22" text-anchor="middle">18</text>
<text transform="translate(964.05 739.66) scale(0.975 1.0625)" font-size="22.22" text-anchor="middle">21</text>
<text transform="translate(1080.30 739.66) scale(0.975 1.0625)" font-size="22.22" text-anchor="middle">24</text>
<text transform="translate(141.10 720.97) scale(0.975 1.0625)" font-size="22.22" text-anchor="end">0</text>
<text transform="translate(141.10 632.97) scale(0.975 1.0625)" font-size="22.22" text-anchor="end">2</text>
<text transform="translate(141.10 544.97) scale(0.975 1.0625)" font-size="22.22" text-anchor="end">4</text>
<text transform="translate(141.10 456.97) scale(0.975 1.0625)" font-size="22.22" text-anchor="end">6</text>
<text transform="translate(141.10 368.97) scale(0.975 1.0625)" font-size="22.22" text-anchor="end">8</text>
<text transform="translate(139.30 280.97) scale(0.975 1.0625)" font-size="22.22" text-anchor="end">10</text>
<text transform="translate(139.30 192.97) scale(0.975 1.0625)" font-size="22.22" text-anchor="end">12</text>
<text transform="translate(139.30 104.97) scale(0.975 1.0625)" font-size="22.22" text-anchor="end">14</text>
<text x="615" y="765.96" font-size="20.83" text-anchor="middle">Universal Time [h]</text>
<text x="100.34" y="404" font-size="20.83" text-anchor="middle" transform="rotate(-90 100.34 404)">Y-factor [dB]</text>
<text x="615" y="87.67" font-size="20.83" text-anchor="middle">GREENLAND of 2026/03/10 with focus code = 63</text>
<rect x="918.3" y="104.3" width="154.2" height="52" rx="2.8" ry="2.8" fill="#fff" fill-opacity="0.8" stroke="#cccccc" stroke-opacity="0.8" stroke-width="1.389"/>
<path d="M923.9 117 H957.9" stroke="#0000ff" stroke-width="2.083" stroke-linecap="square" fill="none"/>
<path d="M923.9 141 H957.9" stroke="#008000" stroke-width="2.083" stroke-linecap="square" fill="none"/>
<text x="982.1" y="122.8" font-size="16.67">48.8 MHz</text>
<text x="982.1" y="146.0" font-size="16.67">70.6 MHz</text>
</svg></body></html>
